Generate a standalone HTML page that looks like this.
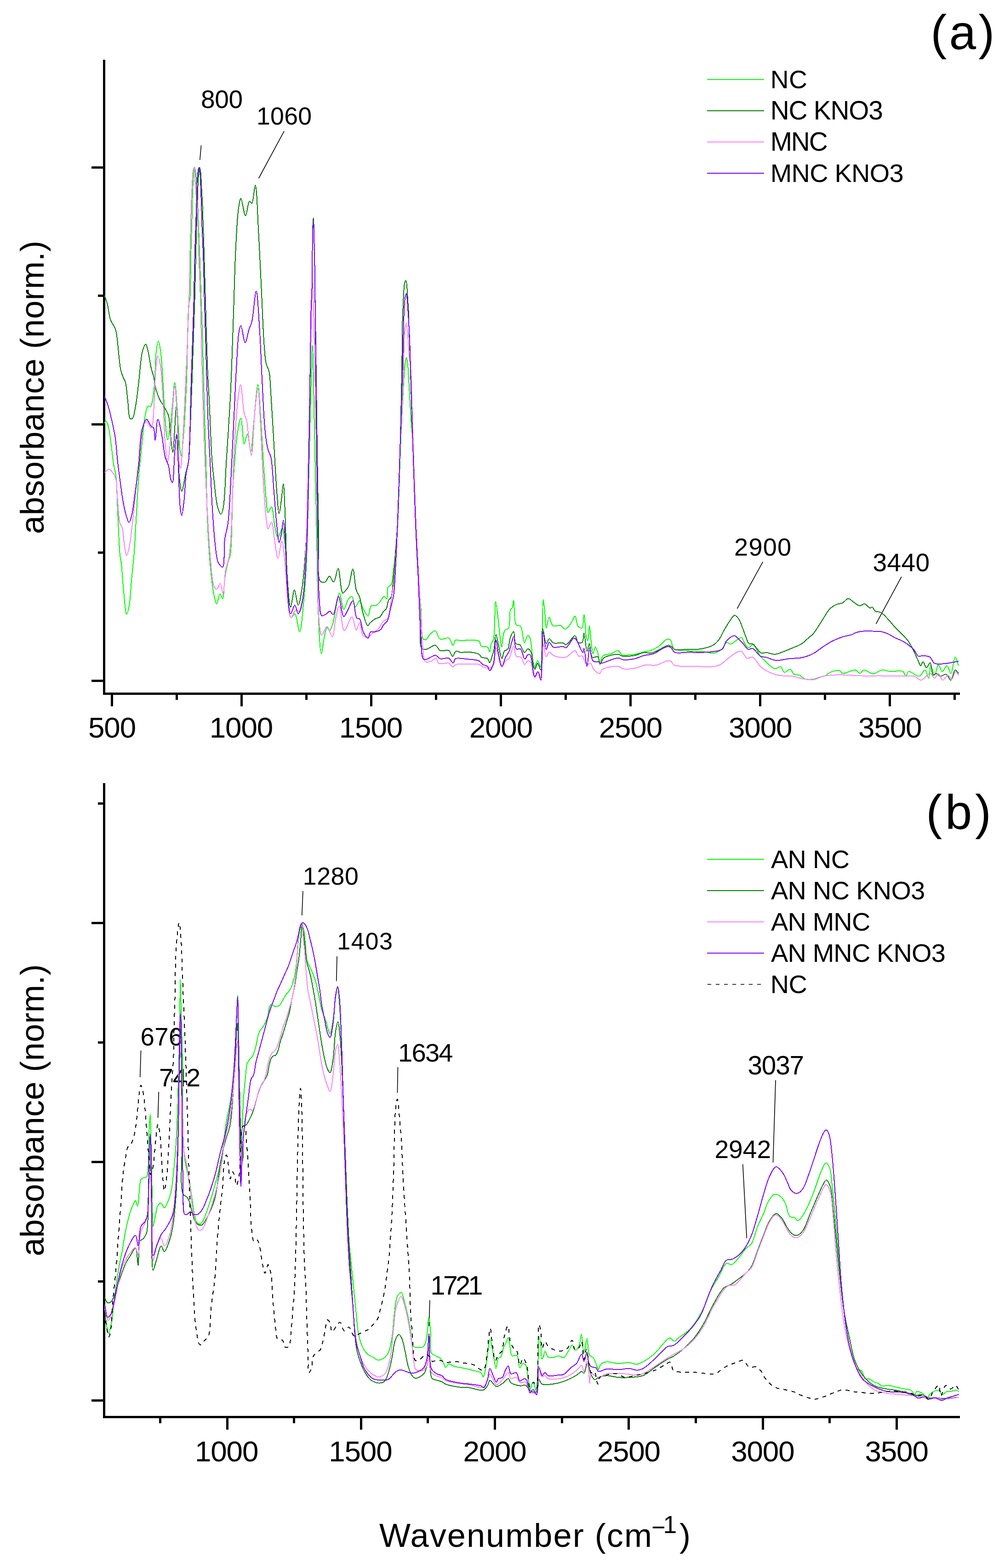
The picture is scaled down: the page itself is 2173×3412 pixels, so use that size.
<!DOCTYPE html><html><head><meta charset="utf-8"><title>FTIR spectra</title><style>html,body{margin:0;padding:0;background:#fff;}svg{display:block;}text{font-family:'Liberation Sans', Arial, sans-serif;fill:#000;}</style></head><body>
<svg width="2173" height="3412" viewBox="0 0 2173 3412">
<rect x="0" y="0" width="2173" height="3412" fill="#fff"/>
<g shape-rendering="crispEdges">
<line x1="226.5" y1="130.0" x2="226.5" y2="1512.0" stroke="#000" stroke-width="5"/>
<line x1="224" y1="1509.5" x2="2088" y2="1509.5" stroke="#000" stroke-width="5"/>
<line x1="199" y1="364.5" x2="226" y2="364.5" stroke="#000" stroke-width="5"/>
<line x1="199" y1="923.5" x2="226" y2="923.5" stroke="#000" stroke-width="5"/>
<line x1="199" y1="1481.5" x2="226" y2="1481.5" stroke="#000" stroke-width="5"/>
<line x1="213" y1="643.5" x2="226" y2="643.5" stroke="#000" stroke-width="5"/>
<line x1="213" y1="1202.5" x2="226" y2="1202.5" stroke="#000" stroke-width="5"/>
<line x1="243.5" y1="1509.5" x2="243.5" y2="1537.0" stroke="#000" stroke-width="5"/>
<line x1="525.5" y1="1509.5" x2="525.5" y2="1537.0" stroke="#000" stroke-width="5"/>
<line x1="807.5" y1="1509.5" x2="807.5" y2="1537.0" stroke="#000" stroke-width="5"/>
<line x1="1089.5" y1="1509.5" x2="1089.5" y2="1537.0" stroke="#000" stroke-width="5"/>
<line x1="1371.5" y1="1509.5" x2="1371.5" y2="1537.0" stroke="#000" stroke-width="5"/>
<line x1="1653.5" y1="1509.5" x2="1653.5" y2="1537.0" stroke="#000" stroke-width="5"/>
<line x1="1935.5" y1="1509.5" x2="1935.5" y2="1537.0" stroke="#000" stroke-width="5"/>
<line x1="384.5" y1="1509.5" x2="384.5" y2="1523.0" stroke="#000" stroke-width="5"/>
<line x1="666.5" y1="1509.5" x2="666.5" y2="1523.0" stroke="#000" stroke-width="5"/>
<line x1="948.5" y1="1509.5" x2="948.5" y2="1523.0" stroke="#000" stroke-width="5"/>
<line x1="1230.5" y1="1509.5" x2="1230.5" y2="1523.0" stroke="#000" stroke-width="5"/>
<line x1="1512.5" y1="1509.5" x2="1512.5" y2="1523.0" stroke="#000" stroke-width="5"/>
<line x1="1794.5" y1="1509.5" x2="1794.5" y2="1523.0" stroke="#000" stroke-width="5"/>
<line x1="2076.5" y1="1509.5" x2="2076.5" y2="1523.0" stroke="#000" stroke-width="5"/>
</g>
<g shape-rendering="crispEdges">
<line x1="226.5" y1="1704.0" x2="226.5" y2="3086.0" stroke="#000" stroke-width="5"/>
<line x1="224" y1="3083.5" x2="2088" y2="3083.5" stroke="#000" stroke-width="5"/>
<line x1="199" y1="2008.5" x2="226" y2="2008.5" stroke="#000" stroke-width="5"/>
<line x1="199" y1="2528.0" x2="226" y2="2528.0" stroke="#000" stroke-width="5"/>
<line x1="199" y1="3047.5" x2="226" y2="3047.5" stroke="#000" stroke-width="5"/>
<line x1="213" y1="1748.5" x2="226" y2="1748.5" stroke="#000" stroke-width="5"/>
<line x1="213" y1="2268.5" x2="226" y2="2268.5" stroke="#000" stroke-width="5"/>
<line x1="213" y1="2788.0" x2="226" y2="2788.0" stroke="#000" stroke-width="5"/>
<line x1="494.0" y1="3083.5" x2="494.0" y2="3111.0" stroke="#000" stroke-width="5"/>
<line x1="785.2" y1="3083.5" x2="785.2" y2="3111.0" stroke="#000" stroke-width="5"/>
<line x1="1076.5" y1="3083.5" x2="1076.5" y2="3111.0" stroke="#000" stroke-width="5"/>
<line x1="1367.8" y1="3083.5" x2="1367.8" y2="3111.0" stroke="#000" stroke-width="5"/>
<line x1="1659.0" y1="3083.5" x2="1659.0" y2="3111.0" stroke="#000" stroke-width="5"/>
<line x1="1950.2" y1="3083.5" x2="1950.2" y2="3111.0" stroke="#000" stroke-width="5"/>
<line x1="348.4" y1="3083.5" x2="348.4" y2="3097.0" stroke="#000" stroke-width="5"/>
<line x1="639.6" y1="3083.5" x2="639.6" y2="3097.0" stroke="#000" stroke-width="5"/>
<line x1="930.9" y1="3083.5" x2="930.9" y2="3097.0" stroke="#000" stroke-width="5"/>
<line x1="1222.1" y1="3083.5" x2="1222.1" y2="3097.0" stroke="#000" stroke-width="5"/>
<line x1="1513.4" y1="3083.5" x2="1513.4" y2="3097.0" stroke="#000" stroke-width="5"/>
<line x1="1804.6" y1="3083.5" x2="1804.6" y2="3097.0" stroke="#000" stroke-width="5"/>
</g>
<text x="192.01" y="1605.36" font-size="63.70" style="letter-spacing:-1.10px">500</text>
<text x="455.77" y="1605.36" font-size="63.70" style="letter-spacing:-1.10px">1000</text>
<text x="737.77" y="1605.36" font-size="63.70" style="letter-spacing:-1.10px">1500</text>
<text x="1020.72" y="1605.36" font-size="63.70" style="letter-spacing:-1.10px">2000</text>
<text x="1302.72" y="1605.36" font-size="63.70" style="letter-spacing:-1.10px">2500</text>
<text x="1585.04" y="1605.36" font-size="63.70" style="letter-spacing:-1.10px">3000</text>
<text x="1867.04" y="1605.36" font-size="63.70" style="letter-spacing:-1.10px">3500</text>
<text x="423.97" y="3179.96" font-size="63.70" style="letter-spacing:-1.10px">1000</text>
<text x="715.22" y="3179.96" font-size="63.70" style="letter-spacing:-1.10px">1500</text>
<text x="1007.42" y="3179.96" font-size="63.70" style="letter-spacing:-1.10px">2000</text>
<text x="1298.67" y="3179.96" font-size="63.70" style="letter-spacing:-1.10px">2500</text>
<text x="1590.24" y="3179.96" font-size="63.70" style="letter-spacing:-1.10px">3000</text>
<text x="1881.49" y="3179.96" font-size="63.70" style="letter-spacing:-1.10px">3500</text>
<text transform="translate(95.23,1161.99) rotate(-90)" font-size="72.23" style="letter-spacing:0.48px">absorbance (norm.)</text>
<text transform="translate(95.23,2733.59) rotate(-90)" font-size="72.23" style="letter-spacing:0.30px">absorbance (norm.)</text>
<text x="825.08" y="3365.65" font-size="72.13" style="letter-spacing:2.05px">Wavenumber (cm</text>
<text x="1416.90" y="3341.01" font-size="52.04">−</text>
<text x="1442.57" y="3335.90" font-size="53.48">1</text>
<text x="1478.08" y="3365.65" font-size="72.13" style="letter-spacing:0.00px">)</text>
<text x="2024.37" y="106.86" font-size="105.43" style="letter-spacing:5.07px">(a)</text>
<text x="2014.21" y="1803.67" font-size="104.89" style="letter-spacing:6.76px">(b)</text>
<line x1="1538" y1="173.0" x2="1661.5" y2="173.0" stroke="#00FF00" stroke-width="2" shape-rendering="crispEdges"/>
<line x1="1538" y1="241.0" x2="1661.5" y2="241.0" stroke="#008000" stroke-width="2" shape-rendering="crispEdges"/>
<line x1="1538" y1="309.0" x2="1661.5" y2="309.0" stroke="#FF80FF" stroke-width="2" shape-rendering="crispEdges"/>
<line x1="1538" y1="377.0" x2="1661.5" y2="377.0" stroke="#7F00FF" stroke-width="2" shape-rendering="crispEdges"/>
<text x="1675.78" y="191.55" font-size="55.21" style="letter-spacing:0.42px">NC</text>
<text x="1675.66" y="260.03" font-size="56.76" style="letter-spacing:-1.20px">NC KNO3</text>
<text x="1675.66" y="328.23" font-size="56.76" style="letter-spacing:-2.07px">MNC</text>
<text x="1675.73" y="396.04" font-size="55.92" style="letter-spacing:-0.75px">MNC KNO3</text>
<line x1="1538" y1="1870.0" x2="1661.5" y2="1870.0" stroke="#00FF00" stroke-width="2" shape-rendering="crispEdges"/>
<line x1="1538" y1="1938.0" x2="1661.5" y2="1938.0" stroke="#008000" stroke-width="2" shape-rendering="crispEdges"/>
<line x1="1538" y1="2006.0" x2="1661.5" y2="2006.0" stroke="#FF80FF" stroke-width="2" shape-rendering="crispEdges"/>
<line x1="1538" y1="2074.0" x2="1661.5" y2="2074.0" stroke="#7F00FF" stroke-width="2" shape-rendering="crispEdges"/>
<line x1="1538.9" y1="2142.0" x2="1656" y2="2142.0" stroke="#000" stroke-width="1.6" stroke-dasharray="8.2,9.8"/>
<text x="1677.00" y="1888.94" font-size="55.77" style="letter-spacing:-0.63px">AN NC</text>
<text x="1677.00" y="1956.74" font-size="55.77" style="letter-spacing:-0.62px">AN NC KNO3</text>
<text x="1677.00" y="2025.14" font-size="55.92" style="letter-spacing:-0.85px">AN MNC</text>
<text x="1677.00" y="2092.94" font-size="55.92" style="letter-spacing:-0.85px">AN MNC KNO3</text>
<text x="1675.83" y="2160.74" font-size="55.92" style="letter-spacing:-0.71px">NC</text>
<text x="436.90" y="234.95" font-size="55.07" style="letter-spacing:-0.28px">800</text>
<line x1="437.6" y1="316.3" x2="434.8" y2="348.0" stroke="#000" stroke-width="1.6"/>
<text x="558.01" y="271.16" font-size="53.66" style="letter-spacing:0.27px">1060</text>
<line x1="618.0" y1="285.4" x2="562.7" y2="388.0" stroke="#000" stroke-width="1.6"/>
<text x="1597.10" y="1209.06" font-size="54.08" style="letter-spacing:1.23px">2900</text>
<line x1="1659.4" y1="1222.4" x2="1603.4" y2="1324.4" stroke="#000" stroke-width="1.6"/>
<text x="1898.40" y="1243.35" font-size="55.07" style="letter-spacing:0.38px">3440</text>
<line x1="1960.9" y1="1255.0" x2="1905.5" y2="1357.6" stroke="#000" stroke-width="1.6"/>
<text x="658.81" y="1924.86" font-size="53.66" style="letter-spacing:0.57px">1280</text>
<line x1="658.9" y1="1939.0" x2="656.8" y2="1992.0" stroke="#000" stroke-width="1.6"/>
<text x="733.13" y="2066.48" font-size="52.11" style="letter-spacing:1.65px">1403</text>
<line x1="733.0" y1="2081.0" x2="731.8" y2="2134.7" stroke="#000" stroke-width="1.6"/>
<text x="305.47" y="2274.75" font-size="54.65" style="letter-spacing:0.35px">676</text>
<line x1="306.5" y1="2285.9" x2="304.7" y2="2344.1" stroke="#000" stroke-width="1.6"/>
<text x="346.03" y="2363.50" font-size="55.43" style="letter-spacing:-1.16px">742</text>
<line x1="345.3" y1="2375.9" x2="343.5" y2="2432.4" stroke="#000" stroke-width="1.6"/>
<text x="866.10" y="2310.04" font-size="56.20" style="letter-spacing:-1.83px">1634</text>
<line x1="865.4" y1="2322.0" x2="864.4" y2="2378.0" stroke="#000" stroke-width="1.6"/>
<text x="936.53" y="2817.10" font-size="57.14" style="letter-spacing:-4.41px">1721</text>
<line x1="934.9" y1="2829.3" x2="933.2" y2="2885.6" stroke="#000" stroke-width="1.6"/>
<text x="1554.45" y="2520.35" font-size="55.07" style="letter-spacing:0.05px">2942</text>
<line x1="1615.7" y1="2533.4" x2="1624.3" y2="2694.3" stroke="#000" stroke-width="1.6"/>
<text x="1626.44" y="2338.13" font-size="56.62" style="letter-spacing:-1.10px">3037</text>
<line x1="1687.1" y1="2350.4" x2="1681.5" y2="2529.5" stroke="#000" stroke-width="1.6"/>
<path d="M227.5,921.0C228.3,919.3 229.0,916.1 230.0,916.0C231.0,915.9 232.6,918.8 233.6,921.0C235.1,924.3 235.9,928.9 237.0,934.5C238.7,943.2 240.4,956.7 242.0,968.6C243.7,981.6 245.1,997.3 247.0,1009.5C248.6,1019.5 250.9,1025.5 252.3,1036.7C254.4,1054.2 254.4,1079.8 255.7,1104.8C257.2,1135.4 258.8,1186.1 260.9,1207.0C261.9,1216.3 263.0,1218.4 264.0,1227.0C265.8,1242.4 267.2,1272.4 269.4,1292.0C271.2,1308.2 273.0,1336.1 275.5,1336.3C277.2,1336.4 279.7,1324.6 281.3,1316.0C283.9,1301.7 284.6,1276.7 286.4,1258.0C288.0,1240.4 290.0,1226.2 291.5,1207.0C293.5,1182.2 294.9,1150.2 296.6,1121.8C298.3,1093.4 299.6,1063.5 301.7,1036.7C303.6,1012.7 306.2,990.7 308.5,968.6C310.7,947.6 312.3,922.9 315.3,907.3C317.2,897.4 318.8,885.3 322.0,883.5C323.5,882.7 325.6,885.6 327.0,885.0C328.8,884.2 329.6,880.6 330.7,876.7C332.9,868.8 334.4,853.9 335.8,839.2C337.8,818.5 337.7,781.9 339.9,764.3C341.1,754.6 342.7,742.0 344.3,742.0C345.9,742.0 348.0,754.8 349.4,764.3C351.9,780.8 352.9,808.4 354.5,832.4C356.3,859.2 357.4,894.6 359.6,917.5C361.1,933.1 362.7,956.6 364.7,956.7C366.2,956.8 368.3,943.5 369.8,934.5C372.0,921.0 373.3,900.5 375.0,883.5C376.7,866.5 378.3,832.4 380.0,832.4C381.7,832.4 383.6,864.3 385.1,883.5C387.1,908.3 388.3,949.0 390.3,968.6C391.4,979.0 392.5,992.4 393.7,992.4C395.3,992.4 397.2,968.8 398.8,951.6C401.5,922.3 403.7,875.7 405.6,832.4C407.8,780.7 408.0,686.2 410.7,662.0C411.5,655.3 412.5,655.6 413.2,649.4C415.0,633.1 414.3,589.6 415.0,559.7C415.8,529.8 417.1,494.3 417.7,470.0C418.1,453.3 418.2,441.0 418.6,427.8C419.0,416.1 419.4,404.2 420.0,394.9C420.4,388.0 420.8,382.5 421.4,377.0C421.9,372.4 422.5,364.2 423.2,364.2C423.7,364.2 424.4,368.8 424.9,371.6C425.6,375.4 426.1,380.0 426.5,385.0C427.1,391.4 427.4,399.0 427.8,406.8C428.3,415.9 428.6,427.4 429.2,436.5C429.7,444.2 430.4,451.2 430.8,458.0C431.1,464.0 431.0,467.2 431.3,475.0C431.9,492.5 433.5,531.1 434.5,559.7C435.5,589.2 436.5,620.3 437.5,649.4C438.4,677.0 439.3,698.2 440.3,730.0C441.7,776.3 443.3,850.6 444.7,900.5C445.8,939.6 446.9,968.0 448.0,1005.0C449.2,1046.9 449.6,1097.4 451.5,1139.0C453.2,1175.3 455.6,1212.9 458.4,1241.0C460.4,1261.0 462.2,1278.6 465.0,1292.0C466.8,1300.9 469.1,1314.0 471.3,1314.0C473.6,1314.0 476.0,1292.2 478.5,1292.0C480.4,1291.8 482.7,1303.3 484.3,1303.0C487.3,1302.4 486.9,1271.9 489.0,1258.0C490.8,1245.8 493.4,1233.3 495.8,1224.0C497.5,1217.3 499.6,1215.5 501.0,1207.0C505.0,1183.4 504.1,1108.3 506.0,1070.7C507.3,1044.2 508.6,1025.1 510.4,1003.0C512.1,981.9 513.7,958.1 516.6,941.0C518.7,928.8 521.8,909.7 524.0,909.8C526.9,910.0 528.0,965.6 531.2,965.9C533.2,966.1 536.1,944.9 538.2,945.0C541.0,945.2 543.6,982.6 545.7,982.5C548.4,982.4 549.7,942.3 552.0,920.0C554.7,894.3 558.5,837.0 561.0,837.0C563.2,837.0 564.8,875.9 566.5,899.4C568.7,929.6 570.5,970.6 572.7,1003.3C574.7,1032.6 576.8,1065.8 579.0,1086.4C580.3,1098.6 580.5,1115.0 583.1,1115.5C585.0,1115.9 588.5,1102.6 590.6,1103.0C594.1,1103.7 595.1,1132.5 597.6,1144.5C599.6,1153.9 601.4,1169.1 603.9,1169.5C605.4,1169.7 607.3,1164.1 608.9,1161.0C610.8,1157.3 612.7,1148.5 614.3,1148.7C617.2,1149.1 618.9,1177.1 620.5,1194.4C622.6,1217.0 622.5,1247.5 624.7,1273.0C626.8,1297.3 627.3,1342.0 633.0,1344.0C635.3,1344.8 638.8,1335.0 641.3,1335.7C645.9,1336.9 648.8,1375.2 651.7,1375.0C655.3,1374.8 657.7,1336.7 660.0,1315.0C662.7,1289.6 664.4,1266.4 666.2,1231.8C669.1,1174.5 670.6,1073.4 672.4,1003.3C674.0,943.5 675.2,883.5 676.6,837.0C677.6,803.5 678.5,750.5 679.5,750.5C680.9,750.5 682.3,858.1 683.7,920.0C685.4,995.2 687.4,1094.8 689.0,1169.5C690.3,1230.5 690.2,1289.3 692.4,1335.7C694.0,1369.2 696.0,1421.8 698.8,1422.0C700.6,1422.1 702.7,1398.7 705.0,1388.6C706.9,1380.2 708.5,1366.3 711.3,1365.6C713.0,1365.2 715.3,1372.2 717.1,1371.9C719.6,1371.5 721.9,1363.2 723.8,1357.3C726.5,1349.0 727.7,1336.7 730.0,1326.0C732.5,1314.5 735.4,1290.6 738.4,1290.6C741.4,1290.6 744.1,1325.7 747.8,1326.0C750.9,1326.3 754.3,1307.7 758.2,1303.0C760.5,1300.2 763.4,1297.2 765.5,1297.9C768.9,1299.1 769.6,1320.3 772.8,1320.8C775.4,1321.2 779.4,1306.9 782.2,1307.2C785.4,1307.5 787.4,1320.3 790.6,1326.0C793.6,1331.3 797.9,1341.0 800.6,1340.6C803.6,1340.1 803.2,1321.9 807.2,1318.7C809.9,1316.5 814.6,1319.0 817.7,1317.7C820.9,1316.3 823.3,1313.3 826.0,1310.4C829.2,1306.9 832.4,1298.3 835.4,1297.9C837.6,1297.6 840.2,1303.6 841.7,1303.0C844.3,1301.9 841.0,1283.2 843.7,1278.0C845.4,1274.8 849.2,1275.0 851.0,1271.8C854.0,1266.5 853.9,1255.9 855.2,1246.8C856.7,1236.0 858.0,1225.2 859.4,1211.3C861.3,1191.8 863.3,1169.7 865.0,1141.0C867.6,1095.9 869.0,1024.4 871.5,967.0C874.0,910.8 878.1,821.4 880.1,800.0C880.6,794.9 880.8,793.9 881.4,790.5C882.1,786.5 883.1,777.4 884.0,777.4C884.9,777.4 886.0,786.5 886.6,790.5C887.1,793.9 887.1,795.4 887.5,800.0C888.5,812.6 890.2,848.1 891.5,870.0C892.7,889.4 893.7,907.9 895.0,925.0C896.1,939.9 897.4,948.2 898.5,967.0C900.7,1005.2 901.9,1088.8 904.0,1141.0C905.7,1183.8 907.5,1224.0 909.8,1257.7C911.6,1283.5 913.8,1303.5 915.7,1326.0C917.5,1347.9 915.2,1385.3 921.0,1390.7C922.9,1392.5 926.2,1391.8 928.2,1390.7C930.5,1389.4 930.9,1384.9 933.4,1382.3C936.6,1378.9 943.1,1372.1 947.0,1373.0C951.3,1374.0 952.4,1388.2 957.4,1390.7C962.2,1393.1 971.5,1386.3 976.2,1388.6C980.8,1390.9 983.0,1404.3 985.6,1404.2C987.7,1404.1 988.1,1394.3 990.8,1392.8C993.1,1391.5 995.8,1393.5 1000.0,1393.8C1008.9,1394.4 1035.8,1390.6 1042.2,1395.2C1045.5,1397.6 1043.4,1403.4 1046.0,1405.6C1049.0,1408.1 1057.2,1405.7 1060.4,1408.2C1063.2,1410.4 1063.9,1418.8 1065.1,1418.6C1066.6,1418.4 1066.6,1406.6 1068.2,1401.7C1069.5,1397.7 1072.0,1396.6 1073.4,1391.2C1077.2,1377.0 1076.0,1309.2 1078.1,1309.1C1079.4,1309.0 1081.2,1327.9 1082.6,1339.0C1084.4,1352.9 1086.1,1373.3 1087.8,1386.0C1089.0,1394.8 1090.0,1408.2 1091.2,1408.2C1092.6,1408.2 1093.5,1384.8 1095.6,1378.2C1096.7,1374.6 1097.6,1372.1 1099.5,1370.4C1101.2,1368.8 1104.3,1370.1 1106.0,1367.8C1110.2,1362.3 1107.4,1331.4 1110.5,1326.0C1111.5,1324.3 1113.0,1324.9 1113.9,1323.4C1115.8,1320.4 1116.2,1306.4 1117.3,1306.5C1119.3,1306.6 1117.3,1353.3 1123.0,1360.0C1125.4,1362.8 1129.6,1360.0 1132.1,1362.6C1137.1,1367.8 1137.5,1398.7 1140.7,1399.0C1142.9,1399.2 1145.3,1383.3 1147.8,1382.9C1149.5,1382.6 1151.4,1385.3 1153.0,1388.6C1157.5,1398.3 1158.0,1453.2 1162.1,1453.8C1164.2,1454.1 1167.0,1437.7 1169.4,1437.7C1171.6,1437.7 1174.3,1451.5 1175.9,1451.2C1179.0,1450.6 1178.1,1417.1 1179.0,1396.5C1180.1,1369.9 1180.1,1305.3 1181.7,1305.2C1182.6,1305.2 1184.0,1321.9 1185.0,1331.3C1186.2,1342.1 1186.3,1366.3 1188.2,1366.5C1189.8,1366.6 1192.2,1343.2 1194.7,1343.0C1197.0,1342.8 1198.1,1358.4 1202.5,1361.3C1206.6,1364.0 1214.7,1359.7 1219.5,1361.3C1223.7,1362.7 1226.4,1369.3 1229.9,1369.0C1234.2,1368.6 1239.4,1359.7 1243.0,1354.7C1246.3,1350.1 1248.6,1340.2 1250.8,1340.4C1253.5,1340.7 1253.7,1358.5 1257.3,1362.6C1259.6,1365.2 1263.8,1367.7 1265.9,1366.5C1269.6,1364.5 1268.9,1337.8 1270.3,1337.8C1272.1,1337.8 1273.1,1376.9 1275.5,1386.0C1276.5,1389.8 1278.0,1393.9 1278.9,1393.8C1280.7,1393.5 1280.8,1361.3 1282.0,1361.3C1283.2,1361.3 1284.6,1385.7 1286.0,1396.5C1287.2,1405.8 1288.1,1422.3 1289.9,1422.5C1291.3,1422.6 1293.2,1408.3 1295.0,1408.2C1296.7,1408.1 1298.8,1415.2 1300.3,1420.0C1302.4,1426.9 1303.1,1445.9 1305.0,1446.0C1306.6,1446.1 1307.3,1431.3 1310.7,1427.7C1313.3,1424.9 1317.9,1424.7 1321.2,1423.8C1324.0,1423.1 1326.0,1423.4 1329.0,1422.5C1333.4,1421.2 1340.3,1415.1 1344.6,1416.0C1348.4,1416.8 1349.9,1424.1 1353.7,1425.7C1357.7,1427.3 1363.4,1425.4 1368.1,1425.1C1372.5,1424.8 1376.3,1424.7 1381.1,1423.8C1387.0,1422.7 1395.0,1420.0 1400.9,1418.6C1405.7,1417.5 1409.3,1417.6 1413.9,1416.0C1419.6,1414.1 1426.3,1410.8 1432.2,1406.9C1438.6,1402.7 1445.3,1392.6 1450.4,1391.2C1453.3,1390.4 1456.0,1390.7 1458.2,1392.5C1461.8,1395.4 1461.4,1408.4 1466.0,1412.1C1470.3,1415.6 1477.6,1414.4 1484.3,1415.2C1492.2,1416.2 1501.9,1416.7 1510.4,1417.3C1518.4,1417.8 1527.0,1417.8 1533.8,1418.6C1539.2,1419.2 1543.9,1421.1 1548.2,1421.2C1551.6,1421.3 1554.1,1421.1 1557.3,1420.0C1561.4,1418.6 1566.6,1415.6 1570.4,1412.1C1574.5,1408.3 1577.2,1398.7 1580.8,1397.8C1583.3,1397.2 1585.7,1401.9 1588.6,1401.7C1592.7,1401.5 1598.6,1395.1 1603.0,1392.5C1606.6,1390.4 1610.2,1386.5 1612.9,1387.3C1616.0,1388.3 1617.3,1396.6 1619.9,1400.4C1622.3,1403.9 1624.7,1409.0 1627.7,1409.5C1630.7,1410.0 1634.7,1402.2 1638.1,1403.0C1643.4,1404.2 1648.4,1421.0 1653.8,1427.7C1658.1,1433.0 1661.9,1436.5 1666.8,1440.8C1672.2,1445.6 1679.2,1454.0 1685.1,1455.1C1689.6,1455.9 1694.6,1450.0 1698.1,1451.2C1701.6,1452.5 1702.6,1462.1 1706.0,1463.0C1709.5,1463.9 1715.5,1455.6 1719.0,1456.4C1722.3,1457.2 1723.4,1464.7 1726.8,1466.9C1730.3,1469.1 1735.9,1467.8 1739.8,1469.5C1743.7,1471.2 1746.0,1475.8 1750.3,1477.3C1755.6,1479.1 1764.2,1478.7 1770.0,1477.8C1774.7,1477.1 1778.3,1474.8 1782.5,1473.6C1786.6,1472.4 1791.2,1472.2 1795.0,1470.5C1798.8,1468.8 1801.2,1465.0 1805.5,1463.2C1811.1,1460.8 1821.6,1457.6 1826.3,1459.0C1829.3,1459.9 1829.4,1464.4 1832.6,1465.3C1838.4,1466.9 1854.1,1456.6 1860.7,1458.0C1865.0,1458.9 1867.0,1465.3 1870.1,1465.3C1873.2,1465.3 1875.6,1458.5 1879.5,1458.0C1884.7,1457.3 1892.8,1466.4 1899.3,1466.3C1905.7,1466.2 1911.7,1458.8 1918.1,1458.0C1924.3,1457.2 1930.0,1460.5 1936.9,1461.1C1945.1,1461.8 1958.5,1458.0 1964.0,1461.1C1967.7,1463.2 1968.2,1471.5 1970.3,1471.5C1972.4,1471.5 1973.1,1462.2 1976.5,1461.1C1981.4,1459.6 1993.3,1472.7 1999.5,1471.5C2004.8,1470.4 2008.6,1457.5 2012.0,1458.0C2015.5,1458.6 2018.3,1476.0 2020.3,1475.7C2022.7,1475.4 2022.2,1448.9 2024.5,1448.6C2026.6,1448.4 2030.1,1469.5 2032.8,1469.5C2035.6,1469.5 2038.1,1446.8 2041.2,1446.5C2043.8,1446.3 2046.3,1460.8 2049.5,1461.1C2052.6,1461.4 2056.9,1448.2 2060.0,1448.6C2063.3,1449.0 2065.8,1465.6 2068.3,1465.3C2071.9,1464.9 2074.5,1430.0 2077.7,1429.8C2080.1,1429.7 2082.6,1442.3 2085.0,1448.6" fill="none" stroke="#00FF00" stroke-width="2.00" stroke-linejoin="round" shape-rendering="crispEdges" />
<path d="M227.5,643.4C229.5,649.6 231.7,654.8 233.6,662.0C236.1,671.6 237.0,686.5 240.4,696.0C243.1,703.5 248.3,708.9 250.6,715.0C252.5,720.2 252.8,723.0 254.0,730.0C256.6,745.4 259.2,789.5 262.6,805.0C264.2,812.2 265.9,815.8 267.7,820.5C269.3,824.7 271.4,826.8 272.8,832.0C275.4,841.3 276.3,859.6 278.0,873.0C279.7,885.8 279.2,907.4 283.0,910.7C284.4,911.9 286.5,911.8 288.0,910.7C291.5,908.0 293.0,894.1 295.0,883.5C297.8,869.1 299.4,850.4 301.7,832.0C304.4,810.9 305.9,778.3 310.0,764.0C312.0,757.0 315.0,748.9 317.0,749.0C319.0,749.1 320.4,757.8 322.0,764.0C324.5,773.7 326.6,791.7 329.0,801.8C330.6,808.6 332.5,812.4 334.0,818.8C335.9,826.8 336.6,837.3 339.0,846.0C341.3,854.3 344.5,863.3 347.7,870.0C350.3,875.3 353.2,878.5 356.0,883.5C359.4,889.6 364.1,896.3 366.4,904.0C369.1,912.9 368.5,923.1 369.8,934.5C371.5,949.0 374.3,984.0 376.0,984.0C377.7,984.0 378.8,951.1 380.0,934.5C381.2,917.6 382.3,883.5 383.4,883.5C384.5,883.5 385.8,914.6 386.8,934.5C388.2,962.7 387.6,1012.2 390.0,1036.7C391.4,1050.5 393.2,1068.9 395.4,1069.0C397.8,1069.1 401.2,1041.5 403.9,1030.0C406.0,1020.7 408.4,1015.7 410.0,1005.0C412.7,986.4 412.6,959.4 414.0,927.7C416.2,877.0 419.3,781.4 421.0,730.0C422.1,697.2 422.8,677.0 423.6,649.4C424.4,620.3 425.1,589.6 425.9,559.7C426.6,529.8 427.3,493.8 428.1,470.0C428.6,454.3 429.2,443.4 429.7,431.0C430.1,419.7 430.3,408.4 430.8,398.6C431.2,390.4 431.7,382.3 432.4,376.0C432.9,371.4 433.6,364.2 434.3,364.2C435.0,364.2 436.2,372.2 436.8,377.0C437.5,383.2 437.4,390.2 437.8,398.6C438.4,410.2 439.6,427.3 440.2,440.0C440.7,450.8 440.8,457.3 441.2,470.0C441.9,491.9 443.3,529.8 444.2,559.7C445.1,589.6 445.8,615.4 446.8,649.4C448.1,694.2 449.8,764.3 451.5,805.0C452.6,831.3 453.7,844.4 455.0,870.0C456.9,906.9 459.1,974.7 461.4,1005.0C462.6,1020.5 463.4,1026.6 465.0,1040.0C467.2,1058.3 469.6,1091.2 473.7,1104.8C475.7,1111.5 478.6,1119.1 480.6,1119.0C482.6,1118.9 484.2,1111.8 485.6,1104.8C489.4,1086.4 490.0,1039.1 492.4,1002.6C495.1,960.5 499.0,904.5 501.0,866.4C502.4,839.0 503.0,822.4 504.0,795.5C505.4,759.8 506.9,712.5 508.3,671.0C509.7,629.4 510.6,584.4 512.5,546.0C514.2,513.2 515.7,475.0 518.7,454.8C520.2,444.6 521.9,432.0 524.0,432.0C526.7,432.0 530.7,469.3 534.0,469.3C537.0,469.3 539.3,439.0 542.8,438.0C544.4,437.5 546.3,442.8 547.8,442.3C551.4,441.0 553.2,402.8 555.3,402.9C558.7,403.1 560.2,469.0 562.3,504.7C564.7,544.1 566.5,587.8 568.6,629.3C570.7,670.9 572.4,724.6 574.8,754.0C576.1,770.1 576.6,781.5 579.0,791.4C580.6,798.2 583.6,800.8 585.2,808.0C587.9,820.0 587.9,838.2 589.3,857.8C591.3,886.1 593.5,927.1 595.6,961.7C597.7,996.3 599.5,1036.9 601.8,1065.6C603.5,1085.9 605.2,1117.4 607.2,1117.5C608.7,1117.5 610.7,1097.0 612.2,1086.4C613.7,1075.5 615.1,1053.0 616.3,1053.0C618.1,1053.1 619.2,1099.8 620.5,1128.0C622.1,1164.3 622.2,1217.3 624.7,1252.6C626.6,1278.8 628.9,1320.8 632.1,1321.0C634.5,1321.1 637.6,1283.7 640.4,1283.7C643.1,1283.7 646.0,1317.1 648.7,1317.0C651.8,1316.9 655.3,1291.1 657.9,1273.3C661.8,1246.2 664.0,1210.1 666.2,1169.5C669.3,1112.2 670.7,1036.8 672.4,961.7C674.4,872.9 675.0,718.9 676.6,670.9C677.1,655.1 677.9,651.2 678.3,639.4C678.8,624.1 678.5,604.8 678.7,587.0C679.0,568.6 679.5,548.2 679.8,531.0C680.1,516.3 680.0,500.6 680.5,490.0C680.8,483.3 681.3,473.5 681.7,473.5C682.0,473.5 682.4,483.9 682.6,490.0C682.9,497.7 683.0,506.4 683.2,516.0C683.5,527.8 683.8,541.7 684.1,555.7C684.4,571.4 684.8,590.7 685.0,605.7C685.2,618.0 685.1,624.8 685.3,639.4C685.6,666.3 686.4,708.5 687.0,754.0C687.9,821.2 689.2,928.6 690.3,1003.3C691.2,1064.3 691.9,1121.8 693.2,1169.5C694.2,1205.6 688.7,1255.0 696.7,1264.5C699.4,1267.7 703.9,1267.8 707.0,1266.6C710.7,1265.2 713.3,1254.0 716.5,1254.0C719.6,1254.0 723.1,1267.1 725.9,1266.6C729.8,1266.0 732.4,1237.2 735.3,1237.4C739.2,1237.6 740.8,1289.1 745.7,1290.6C747.9,1291.3 750.9,1285.8 753.0,1283.3C755.0,1280.9 756.5,1279.6 758.2,1276.0C761.7,1268.5 764.9,1238.3 767.6,1238.4C770.6,1238.5 771.5,1273.4 775.0,1284.3C777.1,1290.8 780.2,1293.0 782.2,1299.0C785.0,1307.3 785.6,1319.9 788.5,1330.2C791.5,1340.7 796.4,1360.9 800.0,1361.5C801.8,1361.8 803.0,1357.3 805.2,1355.2C808.0,1352.5 812.0,1349.0 815.6,1346.9C818.9,1345.0 823.0,1345.1 826.0,1342.7C829.5,1339.9 831.7,1333.5 834.4,1330.2C836.5,1327.7 839.0,1326.9 840.6,1324.0C842.9,1320.0 842.7,1311.7 844.8,1307.2C846.4,1303.8 849.4,1302.9 851.0,1298.9C854.0,1291.4 853.9,1276.4 855.2,1263.4C856.8,1247.7 857.9,1230.0 859.4,1211.3C861.1,1189.6 863.1,1169.7 864.7,1141.0C867.1,1095.9 868.9,1024.4 870.5,967.0C872.1,910.8 873.4,847.6 874.2,800.0C874.8,764.4 874.8,728.5 875.3,706.8C875.6,695.1 875.9,688.5 876.2,679.8C876.5,671.7 876.8,663.9 877.2,656.3C877.5,649.1 877.9,641.9 878.3,635.3C878.7,629.5 878.6,623.3 879.6,618.8C880.3,615.5 881.8,610.5 882.7,610.5C883.6,610.5 884.4,615.6 884.9,618.8C885.6,623.0 885.4,628.0 885.7,633.6C886.2,641.1 887.0,651.4 887.5,659.7C888.0,667.3 888.5,673.4 888.8,681.5C889.2,691.8 889.3,705.2 889.7,716.4C890.1,726.9 890.6,735.3 891.0,746.9C891.6,762.2 892.0,777.4 892.7,800.0C894.0,840.1 896.1,910.8 898.0,967.0C899.9,1024.4 901.8,1088.8 904.0,1141.0C905.8,1183.8 908.1,1221.4 909.8,1257.7C911.3,1289.4 912.1,1319.6 913.6,1346.9C914.9,1370.2 911.2,1404.7 917.8,1411.5C920.4,1414.2 924.3,1413.2 928.2,1412.6C933.6,1411.7 941.9,1403.1 947.0,1404.2C951.4,1405.1 952.9,1413.7 957.4,1415.7C962.4,1417.9 971.6,1413.2 976.2,1415.7C980.3,1417.9 981.8,1428.2 984.5,1428.2C987.0,1428.2 988.6,1418.0 991.9,1416.8C994.9,1415.7 999.1,1419.7 1003.0,1420.0C1007.2,1420.4 1011.0,1418.4 1016.1,1418.6C1023.3,1418.9 1037.1,1420.7 1042.2,1423.8C1045.1,1425.6 1044.9,1428.9 1047.4,1430.4C1050.5,1432.3 1057.4,1430.8 1060.4,1433.0C1063.0,1435.0 1063.6,1442.1 1065.1,1442.0C1067.1,1441.9 1069.2,1431.5 1070.8,1426.4C1072.3,1421.6 1073.6,1417.8 1074.7,1412.1C1076.4,1403.7 1076.9,1380.9 1078.7,1380.8C1080.1,1380.7 1082.0,1394.0 1083.9,1401.7C1086.2,1411.1 1089.2,1432.9 1091.7,1433.0C1093.5,1433.1 1094.2,1420.9 1096.9,1417.3C1098.9,1414.6 1102.7,1415.1 1104.7,1412.1C1108.0,1407.2 1107.4,1394.1 1110.0,1387.3C1112.0,1382.1 1115.4,1374.0 1117.3,1374.3C1119.8,1374.7 1118.0,1396.2 1121.7,1400.4C1123.9,1402.9 1128.0,1400.9 1130.8,1403.0C1134.8,1406.1 1138.0,1419.8 1141.2,1420.0C1143.5,1420.2 1145.5,1412.3 1147.8,1412.1C1149.9,1411.9 1152.4,1414.3 1154.3,1417.3C1158.5,1424.0 1160.2,1456.1 1163.4,1456.4C1165.3,1456.6 1167.3,1443.4 1169.4,1443.4C1171.6,1443.4 1174.6,1458.1 1176.4,1457.7C1180.7,1456.8 1177.2,1368.1 1180.4,1367.8C1182.3,1367.6 1185.0,1399.9 1188.2,1400.4C1190.1,1400.7 1192.1,1390.3 1194.7,1390.0C1197.3,1389.7 1199.7,1397.3 1203.8,1399.0C1209.0,1401.2 1219.8,1397.6 1224.7,1399.0C1227.6,1399.8 1228.6,1403.3 1231.2,1403.0C1236.2,1402.4 1246.4,1382.6 1250.8,1383.4C1254.2,1384.0 1254.1,1395.7 1257.3,1397.8C1259.7,1399.4 1264.2,1399.6 1266.4,1397.8C1269.6,1395.1 1268.9,1377.7 1270.3,1377.7C1272.3,1377.7 1274.4,1417.1 1276.8,1417.3C1278.4,1417.4 1280.3,1400.3 1282.0,1400.4C1284.2,1400.5 1283.9,1427.0 1288.6,1430.4C1291.5,1432.5 1297.5,1427.2 1300.3,1429.0C1303.6,1431.1 1303.2,1444.4 1305.5,1444.7C1307.7,1444.9 1308.9,1435.0 1313.4,1431.7C1319.9,1426.9 1337.4,1423.2 1344.6,1423.8C1348.6,1424.1 1349.8,1427.0 1353.7,1427.7C1360.1,1428.8 1371.8,1427.8 1380.0,1426.4C1387.5,1425.1 1394.4,1420.7 1400.9,1420.0C1406.4,1419.4 1411.4,1422.0 1416.5,1421.2C1421.8,1420.4 1426.6,1417.2 1432.2,1414.7C1438.7,1411.7 1447.7,1404.7 1453.0,1404.3C1456.2,1404.1 1458.5,1405.5 1460.8,1406.9C1463.3,1408.4 1464.2,1412.1 1467.4,1413.4C1472.4,1415.4 1481.4,1413.6 1489.5,1413.4C1499.6,1413.2 1512.9,1413.7 1523.4,1412.1C1532.8,1410.6 1542.6,1408.5 1549.5,1404.8C1555.0,1401.9 1558.5,1398.6 1562.5,1393.8C1567.5,1387.8 1571.2,1377.9 1575.6,1370.4C1579.9,1363.2 1584.4,1355.1 1588.6,1349.5C1591.7,1345.3 1594.5,1339.2 1597.7,1339.0C1600.7,1338.8 1604.3,1343.3 1606.9,1346.9C1610.2,1351.5 1612.2,1358.9 1614.7,1365.2C1617.4,1371.9 1619.9,1379.7 1622.5,1386.0C1624.7,1391.3 1625.8,1398.0 1629.0,1400.4C1631.4,1402.2 1635.4,1400.2 1638.1,1401.7C1641.2,1403.4 1643.1,1407.7 1646.0,1410.8C1649.2,1414.2 1652.6,1419.9 1656.4,1421.2C1659.6,1422.3 1662.9,1419.8 1666.8,1420.0C1672.1,1420.2 1678.8,1424.1 1685.1,1423.8C1691.9,1423.5 1699.6,1419.6 1706.0,1417.3C1711.6,1415.3 1716.0,1413.2 1721.6,1410.8C1728.1,1408.0 1736.3,1405.5 1742.5,1401.7C1748.4,1398.1 1753.3,1392.8 1758.1,1388.6C1762.4,1384.8 1766.0,1382.4 1770.0,1377.7C1775.5,1371.3 1781.0,1361.2 1786.7,1352.6C1792.8,1343.5 1798.9,1331.0 1805.5,1324.5C1810.2,1319.9 1815.2,1317.2 1820.0,1315.1C1824.2,1313.3 1828.6,1313.9 1832.6,1312.0C1837.0,1309.9 1840.9,1302.7 1845.1,1302.6C1849.2,1302.5 1853.4,1308.3 1857.6,1310.9C1861.7,1313.5 1866.0,1317.9 1870.1,1318.2C1873.7,1318.5 1877.1,1313.5 1880.6,1314.0C1884.7,1314.6 1890.0,1323.3 1893.1,1323.4C1894.8,1323.5 1895.8,1320.6 1897.2,1320.9C1899.3,1321.3 1900.6,1327.7 1903.5,1329.7C1906.7,1331.9 1911.8,1330.5 1916.0,1332.8C1921.6,1335.8 1927.7,1343.2 1932.7,1348.5C1937.3,1353.3 1940.6,1358.2 1945.2,1363.1C1950.3,1368.6 1956.6,1374.2 1961.9,1379.8C1967.0,1385.3 1972.3,1390.5 1976.5,1396.4C1980.6,1402.3 1983.5,1408.5 1986.9,1415.2C1990.5,1422.4 1994.5,1432.1 1997.4,1438.2C1999.4,1442.4 2000.8,1448.5 2002.6,1448.6C2004.3,1448.7 2005.9,1440.3 2007.8,1440.3C2010.1,1440.3 2012.4,1452.6 2015.1,1452.8C2017.7,1453.0 2021.2,1441.8 2023.4,1442.3C2026.6,1443.0 2026.3,1468.2 2029.7,1469.5C2031.5,1470.2 2033.7,1465.3 2036.0,1465.3C2038.8,1465.3 2041.8,1471.0 2045.3,1471.5C2049.1,1472.0 2054.2,1466.3 2057.9,1467.4C2062.0,1468.6 2065.2,1480.3 2068.3,1479.9C2072.0,1479.4 2074.2,1458.7 2077.7,1458.0C2080.0,1457.6 2082.6,1462.9 2085.0,1465.3" fill="none" stroke="#008000" stroke-width="2.00" stroke-linejoin="round" shape-rendering="crispEdges" />
<path d="M227.5,1028.0C230.7,1025.8 233.9,1021.1 237.0,1021.4C240.5,1021.7 244.6,1027.8 247.2,1031.6C249.6,1035.2 251.0,1038.1 252.3,1043.5C254.7,1053.4 254.3,1072.5 255.7,1087.8C257.2,1104.2 257.9,1128.6 260.9,1138.9C262.3,1143.7 264.6,1144.3 266.0,1149.0C268.7,1157.9 269.0,1179.0 271.0,1190.0C272.4,1197.5 273.8,1208.5 275.5,1208.6C277.2,1208.7 279.6,1197.8 281.3,1190.0C284.1,1177.3 285.9,1157.2 288.0,1138.9C290.5,1117.8 292.7,1093.4 295.0,1070.7C297.3,1048.0 299.5,1025.3 301.7,1002.6C304.0,979.9 303.6,949.3 308.5,934.5C311.1,926.5 315.1,917.7 318.7,917.5C322.0,917.3 326.3,931.7 329.0,931.0C334.2,929.5 334.1,888.2 335.8,866.4C337.5,844.0 337.3,815.2 339.2,798.4C340.3,788.4 341.6,774.6 343.3,774.5C345.0,774.4 347.7,788.3 349.4,798.4C352.1,815.2 352.9,841.4 354.5,866.4C356.4,897.0 357.2,943.3 359.6,968.6C361.0,983.6 363.0,1004.4 364.7,1004.4C366.4,1004.4 368.2,983.1 369.8,968.6C372.2,946.3 374.1,907.3 376.0,883.5C377.4,866.3 378.6,839.2 380.0,839.2C381.6,839.2 383.7,877.5 385.1,900.5C386.9,930.2 386.6,982.9 389.2,1002.6C390.3,1010.8 391.9,1019.8 393.0,1019.7C394.9,1019.6 395.6,989.7 397.0,968.6C399.2,934.1 401.7,881.2 403.9,832.4C406.5,775.9 409.8,699.6 411.3,649.4C412.4,614.2 412.5,589.6 413.2,559.7C413.9,529.8 414.7,494.4 415.4,470.0C415.9,453.2 416.3,440.6 416.8,427.3C417.3,415.6 417.8,404.3 418.4,394.3C418.9,386.0 418.9,377.0 420.0,371.6C420.6,368.4 421.9,364.3 422.4,364.3C422.8,364.3 423.0,367.0 423.2,369.0C423.6,372.7 423.5,378.9 423.8,384.6C424.2,391.4 424.9,399.2 425.4,406.8C425.9,414.7 426.5,423.7 427.0,431.0C427.4,437.0 427.6,441.5 428.1,447.3C428.6,454.0 429.4,459.3 430.0,469.0C431.2,488.9 431.6,529.6 432.6,559.7C433.6,589.7 435.0,617.9 436.0,649.4C437.1,684.3 437.4,717.3 438.5,760.0C440.0,818.6 442.3,904.4 444.7,968.6C446.7,1023.6 448.9,1075.9 451.5,1121.8C453.6,1159.3 455.6,1195.8 458.4,1224.0C460.4,1244.0 461.2,1266.1 465.2,1275.0C466.9,1278.8 469.2,1282.2 471.3,1282.0C473.8,1281.8 476.9,1269.7 479.0,1270.0C481.7,1270.4 483.3,1291.5 485.0,1291.4C487.6,1291.2 488.0,1256.1 490.7,1241.0C493.0,1228.5 496.9,1222.3 499.2,1207.0C503.7,1176.9 504.4,1108.2 506.0,1070.7C507.1,1044.3 507.0,1029.2 508.3,1003.3C510.1,968.1 513.2,909.0 516.6,878.6C518.6,861.0 521.1,837.0 523.3,837.0C526.0,837.0 528.1,885.3 531.2,899.4C532.9,906.8 535.1,909.1 536.6,916.0C538.9,926.6 539.8,944.4 541.6,957.5C543.3,969.2 545.3,990.9 547.0,990.8C549.7,990.7 551.3,925.9 554.0,899.4C556.1,879.0 559.0,845.3 561.0,845.4C563.3,845.5 564.8,891.9 566.5,920.0C568.7,956.3 570.4,1007.4 572.7,1044.8C574.6,1075.3 576.6,1109.0 579.0,1128.0C580.3,1138.0 580.9,1150.5 583.1,1150.8C585.0,1151.1 588.5,1135.9 590.6,1136.2C594.0,1136.7 595.2,1164.3 597.6,1177.8C599.9,1190.6 602.1,1215.2 604.7,1215.2C607.3,1215.2 610.5,1177.7 613.0,1177.8C615.9,1177.9 618.4,1211.8 620.5,1231.8C623.1,1256.5 623.7,1294.5 626.7,1315.0C628.5,1327.2 629.7,1343.4 633.0,1344.0C635.7,1344.5 639.5,1328.5 643.3,1327.4C645.9,1326.6 649.4,1332.6 651.7,1331.5C656.4,1329.2 657.8,1310.3 660.0,1294.0C663.9,1264.7 664.4,1218.2 666.2,1169.5C668.8,1100.7 670.6,999.3 672.4,920.0C674.0,847.6 675.2,769.0 676.6,712.4C677.6,673.2 678.4,613.0 679.5,613.0C681.0,613.0 683.3,725.6 684.9,795.5C687.1,889.8 688.6,1027.5 690.3,1128.0C691.7,1211.3 690.3,1318.3 694.5,1356.5C695.9,1369.5 696.8,1381.8 699.8,1382.3C702.6,1382.8 707.6,1363.5 711.3,1363.6C715.3,1363.7 719.8,1385.9 722.8,1385.5C726.6,1384.9 727.2,1358.7 730.0,1346.9C732.4,1336.7 735.3,1318.6 738.0,1318.7C741.6,1318.8 743.3,1371.0 748.8,1371.9C753.2,1372.6 761.1,1342.3 765.5,1342.7C769.7,1343.1 771.7,1370.7 774.9,1370.9C777.3,1371.0 780.0,1355.0 782.2,1355.2C785.0,1355.4 785.3,1377.1 789.5,1382.3C792.2,1385.6 796.8,1388.0 800.0,1387.5C803.4,1386.9 805.8,1381.1 809.3,1378.2C813.0,1375.1 818.0,1373.6 821.8,1369.8C826.5,1365.1 830.1,1354.7 834.4,1351.0C837.1,1348.6 840.4,1349.9 842.7,1346.9C847.6,1340.5 848.6,1319.0 851.0,1305.0C853.4,1291.1 855.4,1281.0 857.3,1263.4C860.5,1233.4 862.6,1185.4 864.7,1141.0C867.2,1088.1 868.6,1024.4 870.8,967.0C873.0,910.8 876.7,837.9 877.9,800.0C878.5,780.5 878.3,769.5 878.8,755.6C879.2,743.3 879.4,730.4 880.5,720.8C881.3,713.9 882.6,703.3 883.6,703.3C884.7,703.3 885.8,716.8 886.6,725.1C887.7,736.3 888.2,752.6 889.2,764.4C890.0,774.0 891.0,784.0 891.8,790.5C892.3,794.5 892.7,794.9 893.2,800.0C895.1,821.4 896.6,910.8 898.5,967.0C900.5,1024.4 902.7,1088.8 905.0,1141.0C906.9,1183.8 908.7,1216.3 911.0,1257.7C913.6,1305.0 916.3,1378.3 919.9,1409.5C921.5,1423.5 920.3,1436.0 925.1,1439.7C928.3,1442.2 934.8,1440.1 938.7,1438.7C942.3,1437.5 945.3,1431.8 948.0,1432.4C950.9,1433.0 951.4,1441.9 955.3,1443.9C960.1,1446.4 971.1,1440.8 976.2,1442.8C980.0,1444.3 981.7,1450.9 984.5,1451.2C986.9,1451.4 988.5,1447.2 991.9,1446.0C997.5,1444.1 1007.9,1444.7 1016.1,1444.7C1024.6,1444.7 1036.2,1444.2 1042.2,1446.0C1045.7,1447.1 1046.8,1449.5 1050.0,1450.7C1054.1,1452.3 1061.0,1454.8 1065.1,1453.8C1068.5,1453.0 1071.3,1451.0 1073.4,1447.3C1077.5,1440.3 1075.8,1409.7 1078.7,1409.5C1081.8,1409.2 1087.3,1450.7 1091.7,1451.2C1094.3,1451.5 1096.5,1441.3 1099.5,1438.2C1101.9,1435.7 1105.0,1436.0 1107.3,1433.0C1111.4,1427.7 1114.6,1405.5 1117.3,1405.6C1119.7,1405.7 1119.2,1423.9 1123.0,1427.7C1125.6,1430.3 1130.6,1428.1 1133.4,1430.4C1137.0,1433.3 1138.4,1445.7 1141.2,1446.0C1143.3,1446.3 1145.4,1438.8 1147.8,1438.2C1149.8,1437.7 1152.4,1438.7 1154.3,1440.8C1158.3,1445.4 1158.6,1471.3 1162.1,1472.0C1164.4,1472.5 1167.7,1461.4 1170.0,1461.6C1172.5,1461.8 1174.7,1475.0 1176.4,1474.7C1180.3,1474.0 1178.9,1401.9 1181.7,1401.7C1183.5,1401.6 1185.4,1428.5 1188.2,1429.0C1190.1,1429.3 1192.1,1419.0 1194.7,1418.6C1197.3,1418.2 1199.6,1424.5 1203.8,1426.4C1210.0,1429.2 1222.0,1432.2 1229.9,1430.4C1237.6,1428.6 1245.8,1415.0 1250.8,1416.0C1254.5,1416.7 1255.5,1426.0 1258.6,1427.7C1260.9,1428.9 1264.0,1426.3 1266.4,1427.7C1270.4,1430.0 1272.9,1444.5 1276.8,1446.0C1279.3,1446.9 1282.5,1442.5 1284.7,1443.4C1287.6,1444.6 1288.1,1452.8 1291.2,1456.4C1294.5,1460.2 1300.8,1466.2 1304.2,1465.6C1307.0,1465.1 1307.0,1458.8 1310.7,1456.4C1317.2,1452.2 1336.7,1448.8 1344.6,1449.9C1349.2,1450.5 1350.6,1454.1 1355.0,1455.1C1361.4,1456.5 1371.9,1455.6 1380.0,1454.3C1388.0,1453.0 1395.6,1448.5 1403.5,1447.3C1411.2,1446.2 1419.0,1448.7 1426.9,1447.3C1435.5,1445.8 1447.2,1438.3 1453.0,1437.7C1455.8,1437.4 1457.5,1437.5 1459.5,1438.7C1462.0,1440.2 1462.1,1445.2 1466.0,1447.3C1473.8,1451.5 1496.3,1449.3 1510.4,1449.9C1523.2,1450.4 1536.9,1451.5 1546.9,1450.7C1554.0,1450.1 1559.3,1449.9 1565.1,1447.3C1571.6,1444.4 1577.3,1437.6 1583.4,1433.0C1589.4,1428.5 1596.2,1422.6 1601.6,1419.9C1605.4,1418.0 1608.7,1415.8 1612.1,1416.8C1616.7,1418.2 1620.3,1430.8 1625.1,1432.4C1628.8,1433.6 1632.8,1428.5 1636.8,1429.8C1643.1,1431.9 1648.6,1446.3 1656.4,1452.5C1664.5,1458.9 1676.1,1464.4 1685.1,1467.4C1692.4,1469.8 1699.8,1470.3 1706.0,1470.8C1710.8,1471.2 1713.8,1470.2 1719.0,1470.8C1727.2,1471.7 1741.0,1476.5 1750.3,1477.8C1757.6,1478.8 1763.4,1479.7 1770.0,1478.8C1777.0,1477.8 1783.1,1473.2 1790.9,1471.5C1800.2,1469.5 1810.4,1468.7 1822.1,1468.4C1837.3,1468.0 1857.9,1470.2 1874.3,1470.5C1889.0,1470.8 1901.3,1470.4 1916.0,1470.5C1932.4,1470.7 1954.7,1471.4 1968.2,1471.5C1976.7,1471.6 1982.9,1469.9 1989.0,1471.5C1994.5,1473.0 1998.5,1480.2 2003.6,1479.9C2009.8,1479.5 2018.2,1464.8 2023.4,1465.3C2027.3,1465.7 2029.8,1475.7 2032.8,1475.7C2035.7,1475.7 2038.4,1466.1 2041.2,1466.3C2044.4,1466.5 2047.1,1479.5 2050.6,1479.9C2054.0,1480.3 2058.5,1469.4 2062.0,1469.5C2065.0,1469.6 2067.9,1478.2 2070.4,1477.8C2073.6,1477.3 2075.9,1461.4 2078.7,1461.1C2080.8,1460.9 2082.9,1466.7 2085.0,1469.5" fill="none" stroke="#FF80FF" stroke-width="2.00" stroke-linejoin="round" shape-rendering="crispEdges" />
<path d="M227.5,863.0C230.1,869.8 232.9,875.7 235.3,883.5C238.4,893.3 241.2,906.1 243.8,917.5C246.3,928.8 248.7,939.0 250.6,951.6C252.9,966.8 253.9,986.5 255.7,1002.6C257.3,1017.0 259.0,1029.4 260.9,1043.5C263.0,1058.8 265.1,1077.1 267.7,1091.2C269.8,1102.6 271.9,1113.5 274.5,1121.8C276.4,1127.8 278.6,1137.0 280.6,1137.0C282.6,1137.0 284.7,1128.3 286.4,1121.8C289.3,1111.0 290.9,1093.7 293.2,1077.6C296.0,1058.1 299.0,1035.8 301.7,1012.9C304.7,987.2 305.5,948.4 310.2,931.0C312.6,922.3 315.5,912.7 318.7,912.4C321.8,912.1 325.9,924.6 329.0,927.7C330.8,929.5 332.7,928.9 334.0,931.0C336.8,935.5 336.2,958.4 337.5,958.4C339.2,958.4 340.6,912.6 343.3,912.4C345.4,912.3 348.7,930.2 351.1,941.4C354.3,956.6 356.1,982.9 359.6,995.8C361.6,1003.3 364.5,1006.3 366.4,1012.9C368.8,1021.5 369.4,1037.1 371.5,1043.5C372.6,1046.7 374.0,1050.5 375.0,1050.3C378.0,1049.7 378.3,1004.7 380.0,985.6C381.3,970.4 382.9,944.8 384.1,944.8C385.5,944.8 386.4,980.6 387.5,1002.6C389.0,1031.8 389.6,1085.1 392.0,1104.8C393.0,1112.9 394.2,1121.8 395.4,1121.8C397.0,1121.8 399.0,1100.7 400.5,1087.8C402.4,1071.1 402.9,1045.2 405.0,1030.0C406.4,1019.9 408.6,1017.2 410.0,1005.0C413.7,973.4 413.9,890.8 415.8,832.4C417.8,772.3 420.5,699.6 421.8,649.4C422.7,614.2 422.8,589.6 423.6,559.7C424.4,529.8 425.9,492.1 426.6,470.0C427.0,457.1 427.3,450.2 427.6,439.2C427.9,426.6 427.9,408.5 428.4,398.6C428.7,392.9 429.1,389.2 429.5,385.0C429.8,381.4 430.1,377.8 430.5,374.9C430.8,372.7 431.0,370.7 431.4,369.0C431.7,367.5 432.2,365.1 432.7,365.1C433.3,365.1 434.1,369.0 434.6,371.6C435.3,375.2 435.4,379.3 435.7,385.0C436.3,394.9 436.8,413.9 437.3,425.7C437.7,434.8 438.2,442.3 438.4,450.0C438.6,457.0 438.4,460.9 438.6,470.0C439.1,489.2 441.3,529.8 442.3,559.7C443.3,589.6 443.7,617.7 444.6,649.4C445.6,685.3 446.8,724.2 448.0,764.0C449.3,807.4 450.4,857.6 452.0,900.0C453.4,937.3 455.3,970.4 457.0,1005.0C458.6,1038.7 459.8,1072.9 461.8,1104.8C463.7,1134.3 465.8,1168.1 468.6,1190.0C470.4,1203.9 470.8,1216.4 474.7,1224.0C477.2,1228.8 481.9,1234.9 484.3,1234.0C489.4,1232.2 486.6,1190.3 489.0,1173.0C490.8,1159.9 493.9,1153.4 495.8,1138.9C499.1,1114.0 500.6,1071.9 502.6,1036.7C504.8,999.1 506.4,959.5 508.3,920.0C510.3,879.2 512.3,831.7 514.5,795.5C516.2,767.4 517.2,735.0 520.0,720.7C521.2,714.7 522.5,708.2 524.0,708.3C526.6,708.4 530.1,745.5 533.2,745.6C536.0,745.7 538.9,724.9 541.6,716.6C543.7,710.3 545.9,707.5 547.8,700.0C551.5,685.4 554.6,633.4 557.3,633.5C560.2,633.6 562.4,683.1 564.4,712.4C567.0,749.2 568.4,797.3 570.6,837.0C572.6,873.2 574.0,915.1 576.9,941.0C578.6,956.6 580.4,968.4 583.0,978.3C584.8,985.1 587.5,987.3 589.3,995.0C592.8,1010.2 593.5,1041.7 595.6,1065.6C597.7,1090.2 599.5,1119.4 601.8,1140.4C603.5,1155.7 605.1,1179.9 607.2,1180.0C608.7,1180.1 610.8,1168.0 612.2,1161.0C613.9,1152.4 615.0,1132.0 616.3,1132.0C618.1,1132.0 620.0,1168.9 621.3,1190.0C622.9,1215.2 622.7,1247.3 624.7,1273.0C626.5,1295.4 627.8,1335.0 632.1,1335.7C634.6,1336.1 638.5,1316.9 641.3,1317.0C644.0,1317.1 646.2,1335.8 648.7,1335.7C651.8,1335.6 655.4,1319.3 657.9,1306.6C662.4,1284.1 664.0,1250.4 666.2,1211.0C669.7,1147.5 670.7,1048.0 672.4,961.7C674.2,868.5 675.0,718.9 676.6,670.9C677.1,655.1 677.9,651.2 678.3,639.4C678.8,624.1 678.5,604.8 678.7,587.0C679.0,568.6 679.5,547.6 679.8,531.0C680.1,517.7 680.1,504.1 680.6,495.0C680.9,489.5 681.4,481.7 681.7,481.7C682.1,481.7 682.4,494.1 682.7,500.0C682.9,505.5 683.0,509.5 683.2,516.0C683.5,526.3 683.8,541.7 684.1,555.7C684.4,571.4 684.8,590.7 685.0,605.7C685.2,618.0 685.1,624.1 685.3,639.4C685.6,672.4 686.3,733.7 687.0,795.5C688.0,885.6 689.5,1034.5 691.0,1128.0C692.1,1196.2 691.5,1268.9 694.6,1305.0C696.0,1321.1 695.4,1336.9 699.8,1339.6C702.2,1341.0 706.3,1337.9 709.2,1336.4C712.2,1334.8 714.9,1330.0 717.5,1330.2C720.1,1330.4 722.5,1338.1 724.8,1337.5C729.3,1336.3 732.6,1297.9 736.3,1297.9C740.2,1298.0 743.3,1341.1 747.8,1341.7C750.7,1342.1 754.0,1331.5 757.2,1326.0C760.6,1320.0 764.7,1306.8 767.6,1307.2C771.5,1307.8 771.6,1339.9 776.0,1344.8C777.8,1346.8 780.4,1345.0 782.2,1346.9C786.1,1351.0 786.8,1368.6 790.6,1376.0C793.4,1381.4 798.0,1389.0 800.6,1388.6C803.1,1388.2 803.2,1377.0 806.2,1375.0C808.6,1373.4 812.3,1375.7 815.6,1375.0C819.5,1374.2 824.9,1372.5 828.1,1369.8C831.1,1367.2 831.9,1362.6 834.4,1359.4C836.8,1356.3 840.5,1354.9 842.7,1351.0C846.0,1345.2 846.9,1334.8 849.0,1326.0C851.4,1316.2 854.6,1306.0 856.3,1294.7C858.3,1281.9 858.3,1270.3 859.4,1253.0C861.1,1224.7 863.0,1182.4 864.7,1141.0C866.8,1089.4 868.6,1024.4 870.5,967.0C872.3,910.8 874.7,835.2 875.7,800.0C876.2,783.8 876.3,776.2 876.6,764.4C876.9,752.7 877.2,741.1 877.5,729.5C877.8,717.9 877.9,705.8 878.3,694.6C878.6,684.1 879.0,672.4 879.6,664.1C880.0,658.3 880.2,653.8 881.0,649.3C881.7,645.4 882.8,638.4 883.6,638.4C884.4,638.4 885.1,646.0 885.7,651.0C886.5,658.1 886.9,668.5 887.5,677.2C888.1,685.9 888.7,694.0 889.2,703.3C889.8,714.1 890.5,725.4 891.0,738.2C891.7,753.9 892.0,767.9 892.7,790.5C894.0,832.0 896.1,908.4 898.0,967.0C899.9,1025.2 901.8,1088.8 904.0,1141.0C905.8,1183.8 907.9,1217.7 909.8,1257.7C911.8,1300.1 913.1,1356.2 915.7,1388.6C917.2,1407.9 916.1,1430.2 921.0,1434.5C922.9,1436.2 925.3,1435.1 928.2,1434.5C933.1,1433.5 941.8,1425.6 947.0,1426.1C951.1,1426.5 953.2,1432.2 957.4,1433.4C962.5,1434.9 971.3,1430.4 976.2,1432.4C980.4,1434.1 983.1,1443.1 985.6,1442.8C987.8,1442.5 987.6,1435.2 990.8,1433.4C995.7,1430.6 1007.6,1433.5 1016.1,1434.3C1024.8,1435.1 1036.3,1435.2 1042.2,1438.2C1046.0,1440.1 1047.0,1444.0 1050.0,1446.0C1053.0,1448.0 1057.9,1447.7 1060.4,1450.0C1062.8,1452.2 1063.3,1459.0 1065.1,1459.0C1067.5,1459.0 1071.3,1450.4 1073.4,1443.4C1077.0,1431.5 1076.6,1392.6 1078.7,1392.5C1080.3,1392.4 1081.8,1410.7 1083.9,1420.0C1086.1,1429.8 1088.8,1449.8 1091.7,1450.0C1094.1,1450.1 1096.7,1436.2 1099.5,1430.4C1101.9,1425.5 1105.2,1422.2 1107.3,1417.3C1109.7,1411.8 1110.7,1404.7 1112.6,1399.0C1114.3,1393.9 1116.3,1384.6 1117.8,1384.7C1119.9,1384.9 1119.0,1408.8 1123.0,1412.1C1125.3,1414.0 1129.5,1410.4 1132.1,1412.1C1136.4,1414.9 1138.7,1434.0 1141.8,1434.3C1143.9,1434.5 1145.5,1426.3 1147.8,1425.1C1149.4,1424.2 1151.4,1423.8 1153.0,1425.1C1157.9,1429.0 1159.4,1472.8 1163.4,1473.4C1165.5,1473.7 1168.0,1461.4 1170.0,1461.6C1172.4,1461.8 1174.9,1480.1 1176.4,1479.9C1179.0,1479.5 1178.1,1440.7 1179.0,1422.5C1179.8,1406.1 1180.0,1375.7 1181.7,1375.6C1183.2,1375.5 1185.4,1413.1 1188.2,1413.4C1190.1,1413.6 1191.9,1398.3 1194.7,1397.8C1197.2,1397.4 1199.6,1406.4 1203.8,1408.2C1209.0,1410.4 1219.8,1406.1 1224.7,1406.9C1227.5,1407.4 1228.7,1410.1 1231.2,1409.5C1236.1,1408.3 1243.8,1388.0 1249.5,1388.6C1256.0,1389.2 1264.5,1420.4 1267.7,1420.0C1269.3,1419.8 1269.4,1410.7 1270.3,1410.8C1272.2,1410.9 1274.8,1450.0 1276.8,1450.0C1278.9,1450.0 1280.2,1409.6 1282.6,1409.5C1284.7,1409.4 1285.0,1433.6 1289.9,1438.2C1293.1,1441.3 1300.3,1439.4 1302.9,1440.8C1304.3,1441.5 1303.9,1443.0 1305.5,1443.4C1310.7,1444.7 1335.8,1431.4 1344.6,1431.7C1349.2,1431.9 1350.7,1435.0 1355.0,1435.6C1361.5,1436.5 1372.1,1435.1 1380.0,1433.5C1387.4,1432.0 1393.9,1428.2 1400.9,1426.4C1407.8,1424.6 1415.2,1424.9 1421.7,1422.5C1428.2,1420.1 1434.3,1414.8 1440.0,1412.1C1444.6,1409.9 1449.4,1407.0 1453.0,1406.9C1455.5,1406.8 1457.4,1407.5 1459.5,1409.0C1462.3,1411.0 1463.2,1417.3 1467.4,1419.4C1473.8,1422.6 1486.8,1419.4 1497.3,1419.4C1508.9,1419.4 1522.4,1420.1 1533.8,1419.4C1544.0,1418.8 1555.7,1417.8 1562.5,1416.0C1566.5,1414.9 1569.0,1414.6 1571.7,1412.1C1575.5,1408.5 1576.4,1398.6 1580.8,1393.8C1585.1,1389.1 1593.0,1383.0 1597.7,1383.4C1601.3,1383.7 1603.8,1388.3 1606.9,1391.2C1610.3,1394.4 1613.9,1398.1 1617.3,1401.7C1620.8,1405.4 1624.0,1412.3 1627.7,1413.4C1630.6,1414.2 1633.6,1410.0 1636.8,1410.8C1642.0,1412.1 1648.0,1424.6 1653.8,1427.7C1658.1,1430.0 1662.0,1429.2 1666.8,1430.4C1673.0,1432.0 1679.9,1436.2 1687.7,1436.9C1697.0,1437.7 1709.0,1434.0 1719.0,1433.0C1728.1,1432.1 1736.5,1432.8 1745.0,1430.9C1753.6,1429.0 1762.3,1425.6 1770.0,1421.5C1777.5,1417.5 1783.9,1411.5 1790.9,1406.9C1797.8,1402.4 1804.6,1397.9 1811.7,1394.4C1818.5,1391.0 1825.6,1388.3 1832.6,1386.0C1839.5,1383.8 1848.1,1382.8 1853.4,1380.8C1856.9,1379.5 1858.4,1377.7 1861.8,1376.6C1866.3,1375.1 1872.7,1374.0 1878.5,1373.5C1884.8,1372.9 1891.8,1373.3 1898.3,1373.5C1904.7,1373.7 1911.2,1373.4 1917.1,1374.5C1922.6,1375.6 1927.7,1377.5 1932.7,1379.8C1937.8,1382.1 1942.4,1385.6 1947.3,1388.1C1952.1,1390.5 1957.1,1391.9 1961.9,1394.4C1966.9,1397.0 1972.0,1400.2 1976.5,1403.7C1981.0,1407.2 1985.4,1411.1 1989.0,1415.2C1992.3,1419.1 1993.9,1426.0 1997.4,1427.7C2000.4,1429.1 2004.1,1426.5 2007.8,1426.7C2012.3,1427.0 2018.3,1427.2 2022.4,1429.8C2026.8,1432.6 2028.1,1440.9 2032.8,1443.4C2037.7,1446.0 2045.2,1444.7 2051.6,1444.4C2058.4,1444.1 2066.4,1442.3 2072.5,1441.3C2077.2,1440.6 2080.8,1439.9 2085.0,1439.2" fill="none" stroke="#7F00FF" stroke-width="2.00" stroke-linejoin="round" shape-rendering="crispEdges" />
<path d="M227.8,2841.8C228.7,2852.4 229.2,2863.4 230.6,2873.6C231.9,2883.3 233.9,2901.7 235.9,2901.8C237.5,2901.9 239.6,2891.1 241.2,2884.2C243.4,2874.5 244.8,2861.5 246.5,2848.9C248.4,2834.6 249.8,2818.3 251.8,2803.0C253.9,2787.7 256.3,2771.4 258.8,2757.1C261.0,2744.5 263.6,2734.1 265.9,2721.8C268.4,2708.4 270.1,2693.6 273.0,2679.5C275.9,2665.3 279.9,2648.0 283.5,2637.0C285.8,2629.8 288.4,2623.9 290.6,2619.4C292.1,2616.5 293.5,2612.3 294.8,2612.4C296.5,2612.6 298.2,2624.9 299.4,2624.7C301.4,2624.5 301.7,2601.5 303.0,2591.2C304.1,2582.3 303.8,2570.8 306.5,2566.5C307.9,2564.3 309.8,2563.9 311.8,2563.0C313.9,2562.1 317.1,2563.1 318.8,2561.2C321.9,2557.8 321.5,2548.1 322.4,2538.3C323.9,2521.3 323.2,2488.2 324.1,2467.7C324.8,2451.8 325.9,2425.3 326.6,2425.3C327.5,2425.3 328.0,2475.1 328.7,2503.0C329.5,2535.6 330.4,2578.6 331.2,2608.9C331.8,2631.7 331.0,2668.7 332.9,2668.9C334.1,2669.0 336.4,2652.1 338.2,2644.2C339.9,2636.8 340.7,2627.5 343.5,2623.0C345.2,2620.2 347.8,2617.4 349.9,2617.7C352.5,2618.0 355.2,2628.4 357.6,2628.3C360.1,2628.2 362.5,2620.8 364.7,2616.0C367.4,2610.0 369.8,2603.6 371.8,2594.7C375.0,2580.5 376.8,2558.2 378.8,2538.3C381.0,2516.1 382.7,2493.6 384.1,2467.7C385.8,2436.0 386.6,2397.1 387.7,2361.8C388.8,2326.5 389.8,2292.6 390.5,2255.9C391.3,2216.1 391.6,2131.6 392.2,2131.6C392.6,2131.6 393.0,2160.6 393.5,2180.0C394.3,2209.5 395.7,2249.9 396.5,2291.2C397.5,2343.3 396.6,2426.1 398.2,2467.7C399.1,2490.5 399.9,2505.8 401.8,2520.6C403.2,2531.5 405.2,2539.7 407.0,2548.8C408.7,2557.3 410.7,2564.6 412.4,2573.6C414.4,2584.3 415.9,2597.1 417.7,2608.9C419.5,2620.7 420.8,2634.8 423.0,2644.2C424.5,2650.6 425.5,2656.8 428.2,2660.0C430.1,2662.2 433.1,2664.1 435.3,2663.6C437.9,2663.0 440.1,2658.7 442.4,2654.7C446.1,2648.1 449.4,2637.1 453.0,2626.5C457.6,2613.1 462.5,2596.8 467.0,2580.6C471.9,2562.8 477.2,2544.9 481.2,2524.1C486.0,2499.1 488.6,2463.7 492.4,2440.8C495.1,2424.5 498.3,2413.9 500.7,2399.3C503.3,2383.0 505.2,2366.8 507.0,2347.5C509.2,2323.1 510.8,2290.2 512.2,2264.5C513.4,2242.3 514.0,2220.2 514.9,2202.2C515.6,2188.5 516.3,2166.0 516.9,2166.0C517.8,2166.0 518.3,2220.8 519.0,2250.0C519.7,2281.9 520.2,2314.0 521.0,2350.0C522.0,2392.4 522.9,2488.5 524.6,2488.5C526.0,2488.5 527.9,2415.8 529.8,2389.0C531.1,2370.8 532.5,2357.1 534.0,2343.3C535.3,2331.9 535.9,2315.9 538.0,2312.2C538.6,2311.2 539.4,2311.5 540.0,2310.7C541.0,2309.5 541.5,2306.9 542.8,2305.1C544.3,2303.1 546.9,2301.7 548.5,2299.4C550.3,2296.7 551.4,2293.1 552.7,2289.5C554.2,2285.3 555.6,2280.6 556.9,2275.4C558.5,2269.1 559.5,2260.1 561.2,2254.2C562.5,2249.8 563.6,2246.1 565.4,2242.9C567.0,2240.1 569.3,2238.5 571.1,2235.9C573.1,2233.0 574.9,2229.7 576.7,2226.0C578.7,2221.8 581.0,2216.9 582.4,2211.9C583.9,2206.6 583.9,2199.5 585.2,2194.9C586.2,2191.5 586.9,2187.2 588.7,2186.4C590.0,2185.8 592.0,2187.3 593.7,2187.9C595.5,2188.5 597.2,2189.9 599.3,2190.0C601.8,2190.1 605.5,2189.5 607.8,2187.9C610.3,2186.1 611.5,2182.6 613.4,2179.4C615.7,2175.6 618.1,2170.2 620.5,2166.7C622.4,2163.9 624.2,2162.2 626.2,2159.6C628.5,2156.6 631.4,2153.5 633.2,2149.7C635.2,2145.6 636.1,2140.3 637.5,2135.6C638.9,2130.9 640.6,2126.8 641.7,2121.5C643.1,2114.9 643.7,2106.4 644.5,2098.9C645.3,2091.4 645.9,2084.2 646.6,2076.3C647.3,2067.7 647.9,2057.8 648.8,2049.4C649.6,2041.9 650.2,2034.9 651.6,2028.2C652.9,2022.0 654.9,2010.6 656.6,2010.6C658.2,2010.6 660.3,2021.6 661.5,2028.2C663.0,2036.5 663.4,2046.8 664.3,2056.5C665.3,2066.6 665.3,2079.9 667.1,2087.6C668.2,2092.4 669.8,2095.2 671.4,2098.9C673.1,2102.7 675.2,2106.2 677.0,2110.2C679.0,2114.6 681.0,2119.7 682.7,2124.3C684.3,2128.6 685.6,2132.3 686.9,2137.0C688.4,2142.5 689.7,2149.0 691.1,2155.4C692.6,2162.2 693.9,2169.5 695.4,2176.6C696.9,2183.6 698.0,2190.8 700.0,2197.7C702.1,2204.7 705.0,2210.8 707.7,2218.4C710.9,2227.6 715.1,2249.1 717.9,2249.0C720.7,2248.9 722.8,2229.8 724.7,2218.4C727.0,2204.3 727.8,2183.6 729.8,2170.7C731.2,2161.9 733.0,2148.4 734.3,2148.5C735.9,2148.6 737.1,2169.3 738.3,2184.3C740.4,2209.6 741.9,2248.0 743.5,2286.4C745.5,2335.9 746.8,2403.1 748.6,2456.7C750.2,2504.6 751.9,2550.8 753.7,2592.9C755.3,2629.4 756.4,2662.7 758.8,2695.0C760.9,2724.2 764.2,2750.9 766.9,2778.2C769.5,2804.7 772.3,2833.7 774.7,2856.5C776.6,2874.1 776.9,2889.5 779.9,2903.4C782.4,2915.0 786.0,2926.8 790.3,2934.7C793.4,2940.3 796.9,2944.6 800.8,2947.7C804.0,2950.3 807.8,2951.1 811.2,2953.0C814.7,2955.0 817.8,2959.0 821.6,2959.5C825.6,2960.0 830.9,2958.1 834.7,2955.5C838.9,2952.7 842.3,2948.3 845.1,2942.5C849.1,2934.2 850.8,2921.2 852.9,2908.6C855.4,2893.2 855.9,2872.3 858.1,2856.5C859.9,2843.2 860.5,2827.2 864.6,2820.0C866.9,2816.0 870.9,2812.0 873.2,2812.6C876.1,2813.4 877.0,2823.6 879.0,2830.4C881.6,2839.3 884.5,2850.8 886.8,2861.7C889.3,2873.4 891.3,2886.5 893.3,2898.2C895.2,2909.0 893.9,2924.7 898.5,2929.5C901.3,2932.5 906.8,2931.6 910.3,2932.0C913.2,2932.3 915.8,2933.1 918.1,2932.0C920.7,2930.8 922.9,2928.0 924.6,2924.3C927.6,2918.0 928.5,2905.2 929.8,2895.6C931.1,2886.2 931.4,2867.3 932.5,2867.3C933.6,2867.3 935.5,2884.9 936.4,2895.6C937.6,2909.6 933.9,2936.6 938.2,2944.3C940.1,2947.7 943.2,2947.8 946.0,2949.5C949.2,2951.4 953.4,2952.3 956.4,2954.8C959.6,2957.4 962.1,2961.6 964.3,2965.2C966.4,2968.6 967.5,2975.4 969.5,2975.6C971.4,2975.8 973.2,2968.4 976.0,2967.8C979.1,2967.1 982.9,2971.5 987.7,2973.0C994.6,2975.2 1005.8,2976.4 1013.8,2978.2C1020.7,2979.8 1027.2,2981.4 1033.0,2983.0C1037.8,2984.3 1042.9,2984.5 1046.0,2986.9C1048.7,2989.0 1049.7,2996.2 1051.3,2996.0C1053.4,2995.7 1055.0,2984.2 1056.5,2976.5C1058.6,2965.7 1060.0,2948.7 1061.7,2937.3C1063.0,2928.5 1064.0,2914.0 1065.6,2913.9C1067.1,2913.8 1069.3,2927.5 1070.8,2934.7C1072.4,2942.3 1073.4,2950.7 1074.8,2958.2C1076.1,2965.0 1077.2,2977.8 1078.7,2977.8C1080.3,2977.8 1081.0,2959.2 1083.9,2955.6C1085.3,2953.8 1087.6,2954.8 1089.1,2953.0C1092.1,2949.5 1093.3,2937.8 1095.6,2932.1C1097.3,2928.0 1099.1,2925.2 1100.8,2921.7C1102.4,2918.2 1104.1,2911.1 1105.5,2911.3C1107.5,2911.5 1108.5,2927.7 1110.0,2934.7C1111.3,2940.5 1110.9,2948.4 1113.9,2950.4C1116.3,2952.0 1121.6,2947.3 1124.3,2949.1C1128.7,2952.1 1127.9,2975.9 1130.8,2976.5C1132.7,2976.9 1134.9,2967.8 1137.3,2967.3C1139.3,2966.9 1142.1,2968.6 1143.9,2971.2C1147.5,2976.4 1147.4,2993.1 1149.1,3002.5C1150.5,3010.2 1151.1,3023.2 1153.0,3023.4C1154.7,3023.6 1157.4,3007.6 1159.5,3007.7C1161.7,3007.8 1164.4,3026.2 1166.0,3026.0C1168.6,3025.7 1168.9,2994.3 1169.9,2976.5C1171.1,2955.7 1170.7,2908.8 1172.5,2908.7C1173.5,2908.6 1175.5,2922.1 1176.5,2929.5C1177.6,2938.0 1176.6,2956.3 1178.5,2956.9C1179.3,2957.2 1180.7,2954.8 1181.7,2953.0C1183.3,2950.0 1183.9,2940.1 1185.6,2940.0C1187.3,2939.8 1188.9,2950.7 1192.1,2953.0C1194.8,2954.9 1198.9,2954.6 1202.5,2954.3C1206.6,2954.0 1211.5,2950.3 1215.6,2950.4C1219.3,2950.5 1222.9,2955.2 1226.0,2954.3C1230.0,2953.1 1233.3,2944.7 1236.4,2940.0C1239.3,2935.6 1241.6,2927.0 1244.3,2926.9C1246.9,2926.8 1249.5,2938.6 1252.1,2938.6C1254.7,2938.6 1257.9,2931.7 1259.9,2926.9C1262.5,2920.6 1263.1,2903.4 1264.6,2903.4C1266.6,2903.5 1268.1,2943.8 1270.3,2943.9C1272.2,2944.0 1274.9,2912.5 1276.8,2912.6C1278.8,2912.7 1278.0,2940.7 1282.0,2947.8C1284.3,2952.0 1288.7,2952.2 1291.2,2955.6C1294.2,2959.6 1295.8,2966.7 1297.7,2971.2C1299.2,2974.7 1300.2,2980.4 1301.6,2980.4C1303.2,2980.4 1303.9,2971.4 1306.8,2968.6C1309.9,2965.7 1314.7,2964.0 1319.9,2963.4C1327.0,2962.6 1337.7,2967.2 1345.9,2967.3C1353.2,2967.4 1360.1,2964.4 1366.8,2964.7C1373.1,2965.0 1379.3,2969.1 1385.1,2968.6C1390.6,2968.1 1395.1,2965.3 1400.7,2962.1C1408.4,2957.7 1419.0,2950.0 1426.1,2943.3C1432.3,2937.5 1436.3,2930.5 1441.7,2925.0C1446.7,2919.9 1452.8,2911.6 1457.4,2911.5C1460.8,2911.4 1463.3,2918.5 1466.5,2918.5C1470.2,2918.5 1473.8,2912.7 1478.2,2909.4C1483.6,2905.4 1490.9,2901.4 1496.5,2896.3C1502.3,2891.0 1507.0,2885.3 1512.1,2878.1C1518.4,2869.3 1524.9,2858.0 1530.4,2846.8C1536.3,2834.7 1540.1,2819.8 1546.0,2807.7C1551.5,2796.5 1558.5,2786.5 1564.3,2776.4C1569.7,2767.0 1574.0,2751.6 1579.9,2749.0C1583.6,2747.4 1587.7,2752.8 1591.7,2751.6C1597.3,2750.0 1603.5,2740.5 1608.6,2734.7C1613.4,2729.2 1617.0,2722.7 1621.6,2717.7C1625.8,2713.2 1630.9,2711.6 1634.7,2706.0C1640.3,2697.6 1643.1,2680.8 1647.7,2669.5C1651.9,2659.3 1656.8,2650.2 1660.8,2640.8C1664.6,2631.9 1666.9,2622.0 1671.2,2614.7C1674.9,2608.5 1679.3,2600.6 1684.2,2599.1C1688.2,2597.9 1693.6,2600.3 1697.3,2603.0C1701.6,2606.0 1704.6,2611.4 1707.7,2617.3C1711.8,2625.2 1713.1,2642.7 1718.1,2647.3C1721.0,2650.0 1725.6,2648.3 1728.5,2649.9C1731.1,2651.3 1732.6,2656.0 1735.0,2656.0C1737.8,2656.1 1741.2,2651.6 1744.2,2648.0C1748.3,2642.9 1752.1,2635.3 1756.0,2627.3C1761.0,2617.2 1766.0,2604.2 1770.8,2591.9C1775.9,2578.7 1780.4,2561.7 1785.5,2550.6C1789.2,2542.5 1793.2,2530.7 1796.8,2530.5C1799.6,2530.4 1802.6,2536.4 1804.7,2541.7C1808.5,2551.3 1808.8,2570.2 1810.6,2586.0C1812.7,2604.2 1814.5,2623.3 1816.5,2645.0C1818.9,2671.5 1821.2,2704.0 1823.9,2733.5C1826.6,2763.0 1829.6,2793.9 1832.7,2822.0C1835.5,2847.7 1837.9,2872.9 1841.6,2895.7C1844.8,2915.8 1847.8,2936.6 1853.0,2952.0C1856.9,2963.5 1862.2,2977.1 1866.9,2980.8C1869.0,2982.5 1871.4,2980.6 1873.4,2982.1C1876.9,2984.8 1878.7,2998.1 1882.5,3000.4C1884.8,3001.8 1887.6,2999.6 1890.3,3000.4C1893.7,3001.4 1897.2,3005.1 1900.8,3006.9C1904.2,3008.6 1908.2,3009.1 1911.2,3010.8C1913.8,3012.3 1914.9,3015.2 1917.7,3016.0C1921.4,3017.1 1927.0,3014.4 1932.1,3014.7C1937.8,3015.0 1944.2,3017.3 1950.3,3018.6C1956.4,3019.9 1963.0,3021.4 1968.6,3022.6C1973.3,3023.6 1978.1,3023.1 1981.6,3025.2C1984.9,3027.2 1987.1,3034.3 1989.4,3034.3C1991.3,3034.3 1992.2,3028.4 1994.6,3027.8C1997.8,3027.0 2003.9,3030.5 2007.7,3033.0C2011.3,3035.4 2014.1,3042.3 2016.8,3042.1C2019.3,3041.9 2020.8,3035.4 2023.3,3033.0C2025.6,3030.8 2028.2,3029.1 2031.1,3027.8C2034.2,3026.4 2038.6,3024.2 2041.6,3025.2C2044.8,3026.2 2046.4,3033.8 2049.4,3034.3C2052.4,3034.8 2056.4,3028.8 2059.8,3027.8C2062.5,3027.0 2064.9,3028.1 2067.7,3027.8C2071.0,3027.4 2074.9,3025.1 2078.1,3025.2C2080.9,3025.3 2083.3,3026.9 2085.9,3027.8" fill="none" stroke="#00FF00" stroke-width="2.00" stroke-linejoin="round" shape-rendering="crispEdges" />
<path d="M227.8,2824.2C229.9,2827.7 231.5,2833.7 234.1,2834.8C236.1,2835.6 239.1,2834.6 241.2,2833.0C244.1,2830.8 246.1,2825.4 248.2,2820.6C250.9,2814.6 252.9,2806.5 255.3,2799.5C257.7,2792.4 259.7,2785.9 262.4,2778.3C265.5,2769.5 269.1,2758.2 273.0,2750.0C276.2,2743.3 279.8,2738.0 283.5,2732.4C287.1,2726.9 292.0,2715.8 294.8,2716.5C298.6,2717.4 298.9,2753.7 300.5,2753.6C302.4,2753.5 300.2,2708.8 304.7,2700.6C306.5,2697.3 309.7,2697.7 311.8,2695.3C314.5,2692.2 317.0,2689.1 318.8,2683.0C322.9,2669.0 321.3,2636.7 322.4,2608.9C323.8,2572.9 324.1,2503.9 325.9,2485.3C326.4,2479.8 327.1,2474.7 327.6,2474.7C329.6,2474.8 329.1,2592.6 330.1,2644.2C330.9,2687.6 328.9,2763.4 333.0,2764.0C334.8,2764.3 337.4,2750.7 340.0,2743.0C343.2,2733.5 347.0,2711.6 350.6,2711.2C352.9,2711.0 355.1,2723.6 357.6,2723.5C360.9,2723.4 365.3,2708.8 368.2,2700.6C371.3,2691.8 373.2,2683.8 375.3,2672.4C378.3,2655.6 380.6,2630.7 382.4,2608.9C384.2,2586.0 384.9,2567.1 385.9,2538.3C387.5,2492.7 388.2,2417.9 389.4,2361.8C390.5,2310.6 391.9,2215.0 392.8,2215.0C393.5,2215.0 394.0,2266.9 394.5,2300.0C395.2,2346.5 395.8,2415.3 396.5,2467.7C397.1,2514.0 390.3,2582.3 398.2,2598.3C400.5,2603.0 404.7,2602.4 407.0,2605.3C409.4,2608.3 410.8,2611.7 412.4,2616.0C414.5,2621.7 415.7,2630.0 417.7,2637.0C419.8,2644.1 421.6,2653.4 424.7,2658.3C426.7,2661.6 429.2,2664.1 431.8,2665.3C434.0,2666.3 436.5,2667.0 438.8,2666.0C442.5,2664.3 445.8,2657.7 449.4,2651.2C455.1,2640.9 462.3,2625.6 467.0,2608.9C473.3,2586.6 475.5,2551.1 480.0,2528.0C483.4,2510.5 486.7,2496.5 490.4,2482.3C493.7,2469.7 497.9,2461.9 500.7,2447.0C505.3,2422.4 506.5,2382.3 509.0,2347.5C511.8,2309.3 514.6,2227.0 516.3,2227.0C517.6,2227.0 518.2,2272.7 519.0,2300.0C520.1,2335.1 520.4,2381.3 522.0,2420.0C523.5,2456.2 526.2,2525.0 528.0,2525.0C529.5,2525.0 527.9,2460.1 532.0,2451.0C533.1,2448.5 534.6,2448.7 536.0,2447.0C538.0,2444.5 540.1,2440.7 542.2,2436.7C544.9,2431.5 548.0,2425.0 550.5,2418.0C553.6,2409.5 555.9,2398.3 558.8,2389.0C561.5,2380.3 563.5,2372.1 567.1,2364.0C570.8,2355.7 578.0,2348.0 581.0,2340.0C583.6,2333.0 583.7,2325.6 585.2,2319.2C586.5,2313.6 587.6,2307.5 589.4,2303.7C590.6,2301.2 591.9,2299.2 593.7,2298.0C595.3,2296.9 597.7,2297.9 599.3,2296.6C601.7,2294.7 603.4,2289.5 605.0,2285.3C606.8,2280.3 607.6,2274.0 609.2,2268.4C610.9,2262.7 613.0,2257.2 614.9,2251.4C616.8,2245.4 618.8,2238.7 620.5,2233.0C622.0,2228.0 623.3,2223.6 624.7,2218.9C626.1,2214.2 627.7,2210.0 629.0,2204.8C630.6,2198.5 631.8,2190.7 633.2,2183.6C634.6,2176.5 636.1,2169.5 637.5,2162.4C638.9,2155.3 640.4,2148.8 641.7,2141.2C643.2,2132.5 644.5,2122.4 645.9,2113.0C647.3,2103.6 648.9,2095.1 650.2,2084.7C651.8,2072.0 653.2,2055.4 654.4,2042.4C655.5,2031.2 656.1,2011.3 657.2,2011.3C658.0,2011.3 659.0,2021.5 660.0,2028.2C661.4,2037.8 663.1,2052.5 664.3,2063.6C665.4,2073.5 665.5,2083.1 667.1,2091.8C668.5,2099.4 671.1,2106.3 672.8,2113.0C674.3,2118.9 675.7,2123.8 677.0,2129.9C678.5,2136.9 679.8,2144.8 681.2,2152.5C682.6,2160.4 684.1,2168.2 685.5,2176.6C687.0,2185.6 688.3,2195.4 689.7,2204.8C691.1,2214.2 692.4,2222.8 693.9,2233.0C695.7,2245.1 697.8,2260.2 700.0,2272.6C701.9,2283.6 703.7,2293.9 706.0,2303.5C708.0,2312.0 710.1,2321.9 712.8,2327.3C714.4,2330.4 716.4,2334.4 717.9,2334.1C720.8,2333.5 722.9,2315.4 724.7,2303.5C727.2,2287.3 727.4,2260.3 729.8,2245.6C731.3,2236.4 733.4,2223.4 735.0,2223.5C737.0,2223.6 738.6,2244.4 740.0,2259.2C742.3,2283.3 743.6,2319.9 745.2,2354.5C747.1,2395.9 748.6,2445.3 750.3,2490.7C752.0,2536.1 753.6,2584.9 755.4,2627.0C757.0,2663.5 758.6,2695.1 760.5,2729.0C762.4,2762.9 764.5,2796.8 766.9,2830.4C769.3,2863.6 771.0,2906.7 774.7,2929.5C776.7,2941.8 778.8,2948.4 781.7,2957.4C784.6,2966.3 788.0,2975.7 792.2,2983.4C796.0,2990.3 799.8,2997.3 805.2,3001.7C810.3,3005.8 817.8,3009.2 823.4,3009.5C828.1,3009.8 833.1,3008.5 836.5,3005.6C840.4,3002.2 842.0,2995.3 844.3,2988.7C847.4,2980.0 849.6,2968.6 852.1,2957.4C854.9,2944.5 856.2,2925.0 860.0,2915.6C862.2,2910.2 865.3,2904.0 867.8,2904.0C870.0,2904.0 872.4,2909.0 874.3,2913.0C877.2,2919.2 878.6,2929.7 880.8,2939.1C883.4,2950.2 885.4,2965.6 888.6,2975.6C890.9,2982.9 893.2,2989.9 896.5,2993.9C898.8,2996.6 901.4,2998.8 904.3,2999.1C907.4,2999.5 911.6,2997.0 914.7,2995.2C917.6,2993.5 920.3,2991.8 922.5,2988.7C925.5,2984.4 927.3,2977.5 929.0,2970.4C931.2,2960.9 931.6,2936.5 933.0,2936.5C935.0,2936.5 933.4,2990.8 939.5,2999.1C941.9,3002.4 945.3,3001.8 948.6,3003.0C952.5,3004.4 957.9,3005.2 961.6,3006.9C964.7,3008.3 965.8,3010.6 969.5,3012.1C976.3,3014.9 991.6,3017.4 1000.8,3018.6C1007.9,3019.5 1012.8,3018.7 1020.0,3019.5C1029.2,3020.5 1044.3,3027.1 1051.3,3024.7C1055.9,3023.1 1058.3,3018.3 1060.7,3014.7C1063.0,3011.3 1063.1,3004.3 1065.6,3003.8C1068.8,3003.2 1074.6,3016.1 1079.5,3016.9C1083.8,3017.6 1088.7,3013.1 1093.0,3010.4C1097.4,3007.6 1102.3,2999.5 1105.5,3000.0C1108.1,3000.4 1108.2,3006.6 1111.3,3009.0C1115.8,3012.4 1126.3,3015.1 1132.1,3015.6C1136.1,3016.0 1139.4,3013.1 1142.6,3014.3C1146.5,3015.8 1148.8,3023.6 1153.0,3026.0C1157.1,3028.3 1164.1,3030.9 1167.3,3028.6C1171.8,3025.4 1168.5,3000.6 1171.2,3000.0C1173.1,2999.6 1174.9,3009.5 1179.0,3011.7C1184.3,3014.5 1194.5,3012.7 1202.5,3011.7C1211.0,3010.6 1220.1,3008.3 1228.6,3005.1C1237.5,3001.8 1248.1,2996.2 1254.7,2992.1C1259.1,2989.4 1262.2,2984.3 1265.1,2984.3C1267.1,2984.3 1268.7,2988.7 1270.3,2988.2C1273.4,2987.3 1275.6,2965.9 1278.1,2966.0C1280.8,2966.1 1282.7,2985.6 1286.0,2992.1C1288.3,2996.6 1291.0,3002.0 1293.8,3002.5C1296.2,3002.9 1298.3,2998.7 1301.6,2997.3C1306.3,2995.3 1313.2,2993.6 1319.9,2993.4C1327.8,2993.2 1336.3,2996.7 1345.9,2997.3C1357.6,2998.0 1375.2,2997.2 1385.1,2996.0C1391.3,2995.2 1394.6,2995.1 1400.0,2992.8C1407.8,2989.4 1417.4,2980.5 1426.1,2974.6C1434.8,2968.8 1444.9,2961.8 1452.2,2957.6C1457.2,2954.7 1460.5,2954.0 1465.2,2951.1C1471.5,2947.2 1479.1,2941.5 1486.0,2935.5C1493.8,2928.7 1502.3,2920.8 1509.5,2912.0C1517.2,2902.6 1523.8,2892.1 1530.4,2880.7C1537.8,2868.0 1543.7,2852.2 1551.2,2839.0C1558.5,2826.2 1566.6,2809.7 1574.7,2802.5C1579.8,2797.9 1585.1,2797.9 1590.4,2794.7C1596.4,2791.1 1602.8,2786.1 1608.6,2781.6C1614.1,2777.3 1619.8,2773.2 1624.3,2768.6C1628.4,2764.4 1631.4,2761.2 1634.7,2755.5C1639.5,2747.1 1643.4,2732.9 1647.7,2721.6C1652.1,2710.3 1656.4,2698.7 1660.8,2687.7C1665.1,2677.1 1668.5,2664.8 1673.8,2656.5C1678.0,2649.9 1683.4,2641.2 1688.1,2640.8C1692.1,2640.5 1696.2,2645.7 1699.9,2649.9C1704.7,2655.4 1708.6,2665.8 1712.9,2672.1C1716.4,2677.2 1719.4,2682.4 1723.3,2685.1C1726.5,2687.3 1730.3,2689.0 1733.8,2688.3C1738.1,2687.4 1742.9,2682.6 1746.8,2677.3C1752.7,2669.3 1756.7,2654.2 1761.9,2642.0C1767.6,2628.8 1774.2,2612.7 1779.6,2600.7C1783.8,2591.3 1787.9,2581.6 1791.4,2575.7C1793.5,2572.2 1795.2,2567.6 1797.3,2567.7C1800.1,2567.9 1803.9,2576.2 1806.2,2583.0C1810.0,2594.2 1810.2,2613.6 1812.1,2630.2C1814.2,2648.8 1815.8,2667.5 1818.0,2689.2C1820.6,2715.7 1823.7,2749.6 1826.8,2777.7C1829.6,2803.4 1832.0,2828.3 1835.7,2851.5C1839.0,2872.3 1843.3,2891.5 1847.5,2910.5C1851.4,2928.3 1853.9,2946.8 1860.0,2962.0C1865.4,2975.5 1872.9,2988.6 1881.0,2998.0C1887.7,3005.8 1895.2,3011.9 1903.4,3016.0C1911.4,3020.0 1920.8,3020.8 1929.5,3022.6C1938.1,3024.3 1946.5,3024.5 1955.5,3026.5C1965.5,3028.7 1977.3,3034.3 1986.8,3035.6C1994.4,3036.7 2001.7,3034.2 2007.7,3035.6C2012.7,3036.8 2016.2,3041.3 2020.7,3042.1C2024.9,3042.9 2029.3,3040.6 2033.8,3040.8C2038.8,3041.0 2044.2,3043.2 2049.4,3043.4C2054.6,3043.6 2059.4,3042.5 2065.0,3042.1C2071.5,3041.6 2078.9,3041.2 2085.9,3040.8" fill="none" stroke="#008000" stroke-width="2.00" stroke-linejoin="round" shape-rendering="crispEdges" />
<path d="M227.8,2848.9C230.5,2857.1 233.2,2873.4 235.9,2873.6C237.7,2873.7 239.5,2867.4 241.2,2863.0C243.7,2856.6 246.0,2847.3 248.2,2838.3C250.8,2827.6 252.6,2815.5 255.3,2803.0C258.4,2788.7 261.5,2769.3 265.9,2757.1C269.0,2748.5 272.7,2742.1 276.5,2735.9C279.8,2730.6 283.7,2725.6 287.0,2721.8C289.5,2718.9 292.0,2714.3 294.1,2714.7C296.7,2715.2 298.7,2729.2 300.5,2728.9C303.7,2728.4 302.9,2691.6 306.5,2679.5C308.8,2671.9 312.9,2667.8 315.3,2661.8C317.6,2656.0 319.2,2652.1 320.6,2644.2C323.3,2628.6 322.9,2593.1 324.1,2573.6C324.9,2559.8 325.8,2538.3 326.6,2538.3C327.9,2538.3 329.1,2595.1 330.1,2626.5C331.3,2662.6 329.6,2742.6 333.0,2743.0C334.7,2743.2 337.0,2723.3 340.0,2714.7C342.7,2707.0 346.8,2693.5 349.9,2693.5C352.7,2693.5 354.7,2711.1 357.6,2711.2C360.8,2711.3 365.3,2698.7 368.2,2690.0C372.3,2677.9 374.7,2661.2 377.0,2644.2C379.8,2623.3 380.8,2601.2 382.4,2573.6C384.6,2534.6 386.3,2484.2 387.7,2432.4C389.4,2368.9 390.1,2254.3 391.2,2220.6C391.5,2210.0 391.9,2199.8 392.2,2199.8C392.8,2199.8 393.4,2235.9 394.0,2260.0C394.9,2296.4 395.4,2354.3 396.5,2397.0C397.5,2434.6 397.0,2477.2 400.0,2503.0C401.7,2518.0 404.8,2525.3 407.0,2538.3C409.6,2554.1 411.5,2573.0 414.1,2591.2C416.8,2610.6 419.1,2635.7 423.0,2651.2C425.5,2661.4 427.8,2673.1 431.8,2675.9C433.9,2677.3 436.5,2677.4 438.8,2675.9C443.9,2672.6 448.6,2655.7 453.0,2644.2C458.0,2631.2 462.7,2617.1 467.0,2601.8C471.9,2584.3 476.2,2564.9 480.0,2544.6C484.2,2521.9 486.3,2492.8 490.4,2472.0C493.5,2456.2 497.7,2447.6 500.7,2430.5C505.3,2403.8 508.3,2356.6 511.1,2326.7C513.2,2304.0 515.0,2266.6 516.3,2266.6C518.1,2266.7 518.1,2341.7 519.0,2380.0C519.9,2419.4 520.6,2463.8 521.5,2500.0C522.3,2529.9 522.9,2582.0 524.0,2582.0C525.1,2582.0 526.2,2526.2 528.0,2500.0C529.6,2475.9 530.4,2444.9 534.0,2430.5C535.7,2423.7 537.8,2418.5 540.2,2416.0C541.5,2414.6 543.0,2413.8 544.3,2413.9C545.7,2414.0 547.1,2417.4 548.5,2417.0C551.4,2416.1 554.2,2402.9 556.8,2395.2C559.7,2386.7 561.8,2375.7 565.0,2368.2C567.5,2362.5 571.2,2358.6 573.4,2353.7C575.5,2349.2 576.8,2344.7 578.1,2340.0C579.4,2335.1 580.0,2329.9 581.0,2324.9C581.9,2320.1 582.6,2315.3 583.8,2310.7C585.0,2306.3 586.4,2301.5 588.0,2298.0C589.3,2295.2 590.7,2292.7 592.3,2291.0C593.6,2289.6 595.2,2289.4 596.5,2288.1C598.0,2286.6 599.4,2284.8 600.7,2282.5C602.4,2279.5 603.5,2275.4 605.0,2271.2C606.8,2266.1 608.8,2260.2 610.6,2254.2C612.6,2247.5 614.2,2239.3 616.3,2233.0C618.0,2227.8 620.2,2223.6 621.9,2218.9C623.5,2214.2 624.8,2209.5 626.2,2204.8C627.6,2200.1 629.0,2195.4 630.4,2190.7C631.8,2186.0 633.3,2181.8 634.6,2176.6C636.2,2170.3 637.7,2162.5 638.9,2155.4C640.1,2148.4 640.7,2141.0 641.7,2134.2C642.6,2127.8 643.8,2122.8 644.5,2115.8C645.4,2106.8 645.3,2095.9 645.9,2084.7C646.6,2071.6 647.6,2053.7 648.8,2042.0C649.6,2033.8 650.5,2027.1 651.6,2021.0C652.4,2016.3 653.2,2008.6 654.4,2008.5C655.2,2008.4 656.4,2011.4 657.2,2014.1C658.9,2019.8 659.0,2033.0 660.0,2042.4C660.9,2051.8 662.0,2060.2 662.9,2070.6C664.0,2083.3 664.5,2098.9 665.7,2113.0C666.9,2127.1 668.1,2143.7 669.9,2155.4C671.2,2163.7 672.7,2169.0 674.2,2176.6C676.0,2185.3 677.9,2195.4 679.8,2204.8C681.7,2214.2 683.6,2223.6 685.5,2233.0C687.4,2242.4 689.4,2251.9 691.1,2261.3C692.7,2270.7 693.9,2280.1 695.4,2289.5C696.9,2298.9 698.4,2309.2 700.0,2317.8C701.4,2325.0 702.4,2330.4 704.3,2337.5C706.5,2345.9 710.1,2358.0 712.8,2364.8C714.5,2369.1 716.4,2375.2 717.9,2375.0C720.7,2374.6 722.8,2351.0 724.7,2337.5C726.9,2321.8 727.4,2297.9 729.8,2286.4C731.1,2280.3 733.0,2272.7 734.3,2272.8C736.2,2273.0 737.1,2290.7 738.3,2303.5C740.3,2324.8 741.9,2358.9 743.5,2388.6C745.3,2421.1 747.0,2454.2 748.6,2490.7C750.4,2532.9 751.9,2583.1 753.7,2627.0C755.3,2668.0 756.6,2713.4 758.8,2746.0C760.4,2768.9 762.4,2782.7 764.3,2804.3C766.7,2831.3 768.8,2870.7 772.1,2895.6C774.4,2913.1 776.0,2926.6 779.9,2939.9C783.3,2951.4 787.5,2962.5 792.9,2971.2C797.4,2978.5 802.8,2985.2 808.6,2989.4C813.4,2992.9 819.3,2996.2 824.2,2996.0C828.8,2995.8 833.7,2993.4 837.3,2989.4C842.4,2983.6 844.9,2972.5 847.7,2960.8C851.8,2943.7 853.0,2916.1 855.5,2895.6C857.7,2877.2 858.1,2856.9 862.0,2843.4C864.7,2834.2 869.3,2821.2 872.5,2821.3C875.8,2821.5 879.0,2836.9 881.6,2846.0C884.8,2856.9 887.0,2869.2 889.4,2882.5C892.3,2898.3 894.7,2918.0 897.2,2934.7C899.5,2950.1 899.4,2972.4 903.8,2979.0C905.6,2981.7 907.8,2982.5 910.3,2983.0C913.3,2983.6 917.8,2983.3 920.7,2981.6C924.0,2979.7 926.5,2976.2 928.5,2971.2C932.0,2962.5 931.5,2931.3 933.0,2931.3C934.7,2931.3 932.9,2976.4 938.2,2986.0C940.8,2990.7 944.7,2991.9 948.6,2993.9C952.5,2995.9 958.0,2995.9 961.6,2997.8C964.8,2999.5 965.7,3002.5 969.5,3004.3C976.2,3007.5 991.6,3009.3 1000.8,3010.8C1007.9,3011.9 1012.8,3012.0 1020.0,3013.0C1029.2,3014.3 1043.7,3022.0 1051.3,3018.2C1058.8,3014.5 1060.7,2991.0 1065.6,2990.8C1070.1,2990.6 1074.3,3012.1 1079.5,3013.0C1083.7,3013.7 1088.8,3006.6 1093.0,3002.5C1097.5,2998.0 1102.4,2986.5 1105.5,2986.9C1108.2,2987.2 1108.2,2998.3 1111.3,2999.9C1114.2,3001.4 1119.7,2996.1 1123.0,2997.3C1126.7,2998.6 1128.5,3007.5 1132.1,3009.0C1135.2,3010.3 1139.6,3006.1 1142.6,3007.7C1147.1,3010.1 1148.1,3024.9 1153.0,3028.6C1156.9,3031.5 1163.9,3033.8 1167.3,3031.2C1173.9,3026.1 1168.8,2976.9 1171.8,2976.5C1173.6,2976.2 1175.7,2994.5 1179.0,2996.0C1180.9,2996.9 1183.5,2993.0 1185.6,2993.4C1187.9,2993.9 1188.6,2998.6 1192.1,2999.9C1199.0,3002.5 1217.8,3000.7 1228.6,2997.3C1238.4,2994.2 1248.2,2986.8 1254.7,2981.7C1259.2,2978.1 1262.5,2970.7 1265.1,2971.2C1267.6,2971.7 1268.6,2984.4 1270.3,2984.3C1272.5,2984.2 1275.1,2962.0 1276.8,2962.1C1278.6,2962.2 1279.8,2978.7 1280.8,2986.9C1281.8,2994.8 1281.9,3010.4 1282.8,3010.4C1283.7,3010.4 1282.5,2991.3 1286.0,2989.5C1289.2,2987.9 1296.2,2997.1 1301.6,2997.3C1307.4,2997.5 1312.5,2991.0 1319.9,2989.5C1330.3,2987.4 1347.3,2988.9 1359.0,2989.5C1368.6,2990.0 1377.6,2992.5 1385.1,2992.1C1390.8,2991.8 1394.6,2991.2 1400.0,2988.9C1407.8,2985.7 1416.8,2978.0 1426.1,2972.0C1436.7,2965.1 1449.3,2956.2 1460.0,2949.8C1469.1,2944.3 1477.9,2941.3 1486.0,2935.5C1494.4,2929.6 1502.3,2922.6 1509.5,2914.6C1517.2,2906.1 1523.9,2896.7 1530.4,2885.9C1537.9,2873.6 1543.0,2858.1 1551.2,2844.2C1560.1,2829.0 1572.5,2805.0 1582.5,2798.6C1587.9,2795.2 1592.9,2798.8 1598.2,2796.0C1605.9,2791.9 1614.9,2778.1 1621.6,2771.2C1626.6,2766.1 1630.9,2764.0 1634.7,2758.1C1640.1,2749.8 1643.4,2735.6 1647.7,2724.3C1652.1,2713.0 1656.4,2701.4 1660.8,2690.4C1665.1,2679.7 1668.8,2667.5 1673.8,2659.1C1677.7,2652.6 1682.2,2643.9 1686.8,2643.4C1691.0,2643.0 1696.0,2649.1 1699.9,2653.8C1704.9,2659.7 1708.5,2670.8 1712.9,2677.3C1716.3,2682.5 1719.3,2687.9 1723.3,2690.4C1726.5,2692.4 1730.3,2693.8 1733.8,2693.0C1738.1,2692.0 1742.8,2687.5 1746.8,2682.5C1752.6,2675.2 1756.8,2662.2 1761.9,2650.9C1767.7,2638.1 1773.4,2622.3 1779.6,2609.6C1785.2,2598.1 1792.5,2577.6 1797.3,2577.7C1800.8,2577.7 1803.9,2587.3 1806.2,2594.8C1809.9,2606.9 1810.3,2626.6 1812.1,2645.0C1814.3,2667.2 1815.7,2693.0 1818.0,2718.7C1820.5,2746.9 1823.4,2777.7 1826.8,2807.2C1830.2,2836.7 1833.5,2869.7 1838.6,2895.7C1842.7,2916.7 1847.4,2935.1 1853.4,2951.8C1858.5,2966.0 1864.6,2979.2 1871.1,2990.1C1876.6,2999.2 1882.8,3007.5 1888.8,3013.7C1893.6,3018.6 1897.5,3022.3 1903.4,3025.2C1910.5,3028.7 1920.8,3030.2 1929.5,3031.7C1938.1,3033.2 1946.8,3033.4 1955.5,3034.3C1964.2,3035.2 1972.9,3036.0 1981.6,3036.9C1990.3,3037.8 2001.1,3037.6 2007.7,3039.5C2012.1,3040.8 2014.2,3044.3 2018.1,3044.7C2022.7,3045.2 2028.6,3040.8 2033.8,3040.8C2039.0,3040.8 2043.5,3044.3 2049.4,3044.7C2056.9,3045.3 2068.8,3042.9 2075.5,3042.1C2079.8,3041.6 2082.4,3041.2 2085.9,3040.8" fill="none" stroke="#FF80FF" stroke-width="2.00" stroke-linejoin="round" shape-rendering="crispEdges" />
<path d="M227.8,2838.3C229.9,2847.7 230.8,2865.5 234.1,2866.5C236.0,2867.1 239.2,2863.0 241.2,2859.5C244.6,2853.5 246.0,2841.2 248.2,2831.2C250.7,2820.1 252.6,2808.4 255.3,2795.9C258.4,2781.6 261.6,2764.5 265.9,2750.0C269.9,2736.4 274.5,2722.2 280.0,2711.2C284.4,2702.3 291.4,2687.7 294.8,2688.3C298.0,2688.8 298.8,2711.3 300.5,2711.2C302.8,2711.1 302.5,2678.0 306.5,2668.9C308.8,2663.7 313.0,2662.3 315.3,2658.3C317.7,2654.1 319.2,2651.3 320.6,2644.2C324.3,2625.5 323.0,2570.0 324.1,2538.3C325.0,2512.4 325.8,2467.7 326.6,2467.7C327.9,2467.7 328.8,2595.5 330.1,2644.2C331.0,2678.7 329.2,2731.8 333.0,2732.4C335.1,2732.7 338.8,2715.6 341.8,2707.7C344.6,2700.3 347.1,2692.7 350.6,2686.5C353.7,2681.1 357.7,2678.1 361.2,2672.4C365.9,2664.8 371.9,2655.4 375.3,2644.2C379.8,2629.6 380.5,2612.6 382.4,2591.2C385.3,2558.7 386.3,2515.6 387.7,2467.7C389.6,2401.3 389.6,2268.1 391.2,2230.0C391.7,2217.9 392.3,2206.2 392.8,2206.2C393.5,2206.2 394.0,2237.9 394.5,2260.0C395.2,2295.2 395.2,2348.4 395.8,2397.0C396.4,2452.1 396.7,2528.4 398.2,2573.6C399.1,2601.9 396.6,2637.5 401.8,2642.4C403.2,2643.8 405.2,2643.0 407.0,2642.4C409.3,2641.6 411.7,2637.0 414.1,2637.0C416.5,2637.0 418.5,2641.5 421.2,2642.4C423.8,2643.3 427.3,2643.5 430.0,2642.4C433.2,2641.1 435.9,2637.8 438.8,2633.6C443.6,2626.6 448.6,2613.3 453.0,2601.8C458.0,2588.8 462.7,2574.5 467.0,2559.4C471.8,2542.5 475.8,2521.6 480.0,2505.0C483.6,2490.8 487.2,2480.0 490.4,2465.7C494.2,2448.7 497.8,2430.3 500.7,2409.7C504.2,2384.8 506.8,2355.9 509.0,2326.7C511.4,2294.1 512.7,2252.0 514.2,2223.0C515.2,2202.1 516.2,2169.0 516.9,2169.0C518.0,2169.0 518.2,2252.9 519.0,2300.0C519.9,2355.2 521.1,2428.5 522.0,2480.0C522.7,2518.8 523.1,2582.0 524.0,2582.0C524.8,2582.0 525.2,2525.8 527.0,2500.0C528.7,2476.9 531.6,2454.4 534.0,2434.6C536.0,2418.0 538.1,2403.8 540.2,2389.0C542.2,2374.8 543.3,2355.6 546.4,2347.5C547.8,2343.8 549.9,2343.5 551.3,2340.0C553.9,2333.6 554.8,2319.6 556.9,2310.7C558.7,2303.0 560.7,2296.6 562.6,2289.5C564.5,2282.5 566.3,2275.4 568.2,2268.4C570.1,2261.3 572.0,2254.3 573.9,2247.2C575.8,2240.1 577.6,2233.1 579.5,2226.0C581.4,2218.9 583.2,2211.4 585.2,2204.8C587.0,2198.8 588.8,2193.3 590.8,2187.9C592.6,2182.9 594.6,2178.6 596.5,2173.7C598.4,2168.7 600.0,2163.3 602.1,2158.2C604.2,2153.0 607.0,2147.6 609.2,2142.7C611.2,2138.2 613.0,2134.2 614.9,2129.9C616.8,2125.7 618.5,2121.6 620.5,2117.2C622.7,2112.3 625.5,2107.0 627.6,2101.7C629.7,2096.2 631.3,2090.4 633.2,2084.7C635.1,2079.1 637.0,2073.3 638.9,2067.8C640.7,2062.5 642.9,2057.6 644.5,2052.3C646.2,2046.8 647.4,2041.1 648.8,2035.3C650.2,2029.3 651.0,2021.9 653.0,2017.0C654.5,2013.3 656.5,2008.1 658.6,2007.8C660.3,2007.5 662.6,2010.4 664.3,2012.7C666.6,2015.8 668.4,2020.8 670.0,2025.4C671.8,2030.6 672.8,2036.7 674.2,2042.4C675.6,2048.0 677.0,2053.4 678.4,2059.3C679.9,2065.6 681.3,2072.3 682.7,2079.1C684.2,2086.4 685.5,2093.9 686.9,2101.7C688.3,2109.9 689.7,2118.6 691.1,2127.1C692.5,2135.6 694.0,2143.3 695.4,2152.5C697.0,2163.3 698.2,2176.6 700.0,2187.9C701.7,2198.5 703.9,2208.2 706.0,2218.4C708.1,2228.6 710.0,2242.1 712.8,2249.0C714.3,2252.9 716.4,2257.8 717.9,2257.5C720.7,2257.0 722.9,2237.6 724.7,2225.2C727.1,2208.8 727.6,2181.6 729.8,2167.3C731.1,2158.7 732.9,2146.8 734.3,2146.8C735.8,2146.8 737.1,2159.7 738.3,2170.7C740.8,2194.8 741.9,2244.1 743.5,2286.4C745.4,2337.7 746.9,2399.9 748.6,2456.7C750.3,2513.5 751.7,2577.5 753.7,2627.0C755.2,2665.3 756.9,2698.1 758.8,2729.0C760.4,2754.8 762.3,2781.3 763.9,2800.0C764.9,2812.3 765.7,2817.5 766.9,2830.4C768.9,2852.6 770.7,2900.6 774.7,2921.6C776.9,2933.1 779.6,2938.6 782.5,2947.7C785.6,2957.7 787.8,2970.0 792.9,2979.0C797.6,2987.2 804.8,2996.2 811.2,3000.0C815.9,3002.8 820.8,3002.7 826.0,3003.0C831.8,3003.4 838.8,3004.2 844.3,3001.7C850.3,2999.0 855.0,2989.6 860.0,2986.0C863.6,2983.4 866.9,2981.2 870.4,2980.8C873.8,2980.4 877.4,2982.3 880.8,2983.4C884.3,2984.5 887.7,2986.7 891.2,2987.4C894.6,2988.0 898.3,2988.0 901.7,2987.4C905.2,2986.7 908.8,2985.2 912.1,2983.4C915.7,2981.4 919.8,2979.4 922.5,2975.6C926.0,2970.7 927.3,2963.4 929.0,2954.8C931.6,2941.4 931.6,2902.6 933.0,2902.6C934.7,2902.6 932.2,2965.0 938.2,2978.2C940.8,2984.0 944.6,2986.1 948.6,2988.7C952.5,2991.3 958.0,2991.5 961.6,2993.9C964.8,2996.0 965.6,2999.5 969.5,3001.7C976.2,3005.5 991.6,3007.8 1000.8,3009.5C1007.9,3010.8 1013.1,3010.8 1020.0,3011.7C1028.0,3012.8 1040.3,3013.6 1046.0,3015.6C1049.1,3016.7 1050.6,3020.1 1052.6,3019.5C1055.7,3018.5 1058.3,3008.8 1060.4,3002.5C1062.8,2995.2 1063.3,2978.1 1065.6,2977.8C1067.4,2977.6 1069.9,2987.2 1072.2,2992.1C1074.6,2997.2 1077.3,3007.6 1079.5,3007.7C1081.1,3007.8 1081.7,3001.7 1083.9,3000.0C1086.2,2998.2 1090.7,2999.4 1093.0,2997.3C1095.8,2994.7 1096.1,2988.4 1098.2,2984.3C1100.3,2980.2 1103.4,2972.3 1105.5,2972.5C1107.9,2972.8 1107.8,2987.5 1111.3,2989.5C1114.2,2991.1 1119.9,2985.3 1123.0,2986.9C1127.0,2988.9 1127.3,3003.9 1130.8,3005.1C1133.4,3006.0 1137.4,3000.1 1140.0,3000.0C1142.0,2999.9 1143.6,3000.6 1145.2,3002.5C1148.7,3006.7 1149.7,3030.5 1153.0,3031.2C1154.9,3031.6 1157.3,3023.3 1159.5,3023.4C1162.1,3023.5 1165.3,3035.6 1167.3,3035.1C1171.4,3034.0 1168.3,2974.3 1171.2,2973.8C1172.6,2973.6 1175.1,2983.3 1176.5,2986.9C1177.5,2989.4 1177.7,2993.1 1179.0,2993.4C1180.5,2993.7 1183.4,2986.9 1185.6,2986.9C1187.8,2986.9 1188.9,2992.2 1192.1,2993.4C1197.2,2995.4 1209.3,2992.7 1215.6,2992.1C1219.8,2991.7 1222.5,2992.4 1226.0,2990.8C1231.0,2988.5 1236.6,2980.8 1241.6,2976.5C1246.1,2972.6 1251.0,2970.5 1254.7,2966.0C1259.0,2960.8 1262.4,2946.3 1265.1,2946.5C1267.4,2946.7 1268.5,2962.1 1270.3,2962.1C1272.3,2962.1 1275.1,2942.5 1276.8,2942.6C1278.6,2942.7 1278.6,2960.4 1280.8,2966.0C1282.2,2969.5 1283.5,2972.0 1286.0,2973.8C1288.6,2975.7 1293.8,2974.6 1296.4,2976.5C1298.9,2978.3 1298.8,2983.3 1301.6,2984.3C1305.6,2985.8 1313.2,2979.8 1319.9,2979.0C1327.7,2978.1 1337.5,2980.6 1345.9,2980.4C1353.9,2980.2 1362.4,2977.3 1369.4,2977.8C1375.2,2978.2 1380.0,2981.8 1385.1,2981.7C1390.1,2981.6 1394.7,2980.1 1400.0,2977.2C1407.9,2972.9 1417.5,2962.7 1426.1,2955.0C1434.9,2947.1 1444.5,2934.2 1452.2,2930.2C1456.9,2927.8 1460.7,2929.8 1465.2,2927.6C1471.7,2924.4 1479.1,2916.2 1486.0,2909.4C1493.8,2901.7 1502.7,2892.0 1509.5,2883.3C1515.6,2875.5 1520.6,2868.6 1525.2,2859.8C1530.4,2849.8 1533.8,2837.0 1538.2,2826.0C1542.5,2815.3 1546.4,2804.8 1551.2,2794.7C1555.9,2784.8 1561.9,2775.1 1566.9,2766.0C1571.4,2757.8 1574.5,2746.5 1579.9,2742.5C1583.7,2739.7 1588.6,2741.7 1593.0,2739.9C1598.2,2737.8 1603.9,2733.7 1608.6,2729.5C1613.5,2725.1 1617.6,2720.0 1621.6,2713.8C1626.4,2706.4 1630.7,2697.6 1634.7,2687.7C1639.6,2675.6 1643.5,2660.3 1647.7,2646.0C1652.2,2630.9 1656.3,2614.0 1660.8,2599.1C1665.0,2585.4 1668.5,2570.7 1673.8,2560.0C1678.0,2551.6 1683.0,2539.7 1688.1,2539.1C1692.6,2538.6 1698.5,2546.9 1702.5,2552.2C1706.9,2558.0 1709.7,2566.4 1712.9,2573.0C1715.7,2578.9 1716.9,2585.9 1720.7,2590.0C1724.1,2593.6 1729.6,2597.4 1733.8,2597.0C1738.3,2596.5 1743.0,2591.2 1746.8,2586.0C1752.0,2578.9 1755.1,2566.4 1759.0,2556.0C1763.1,2544.9 1766.9,2532.8 1770.8,2521.1C1774.7,2509.3 1778.8,2495.9 1782.6,2485.7C1785.6,2477.8 1788.5,2469.8 1791.4,2465.0C1793.2,2462.1 1795.0,2458.5 1796.8,2458.6C1798.9,2458.7 1801.4,2463.5 1803.2,2468.0C1806.4,2476.2 1807.4,2492.6 1809.1,2506.3C1811.0,2521.9 1812.2,2539.1 1813.6,2556.5C1815.1,2575.4 1816.5,2593.8 1818.0,2615.5C1819.9,2642.0 1821.9,2674.5 1823.9,2704.0C1825.9,2733.5 1827.6,2766.0 1829.8,2792.5C1831.6,2814.2 1833.6,2833.3 1835.7,2851.5C1837.5,2867.3 1839.2,2881.0 1841.6,2895.7C1844.1,2910.5 1846.7,2926.2 1850.4,2940.0C1853.7,2952.6 1857.5,2964.7 1862.2,2975.4C1866.5,2985.1 1870.2,2994.7 1877.0,3001.9C1883.9,3009.2 1894.4,3014.2 1903.4,3018.6C1911.9,3022.7 1920.7,3026.1 1929.5,3027.8C1938.1,3029.5 1946.8,3028.2 1955.5,3029.1C1964.2,3030.0 1974.2,3030.4 1981.6,3033.0C1987.7,3035.1 1991.9,3041.1 1997.3,3042.1C2002.3,3043.0 2009.3,3038.3 2012.9,3039.5C2015.4,3040.3 2015.6,3043.9 2018.1,3044.7C2021.7,3045.9 2028.6,3041.7 2033.8,3042.1C2039.1,3042.5 2044.8,3047.6 2049.4,3047.3C2053.3,3047.0 2056.1,3043.6 2059.8,3042.1C2063.9,3040.5 2068.5,3039.5 2072.9,3038.2C2077.2,3036.9 2081.6,3035.6 2085.9,3034.3" fill="none" stroke="#7F00FF" stroke-width="2.00" stroke-linejoin="round" shape-rendering="crispEdges" />
<path d="M227.8,2855.9C229.3,2867.7 230.5,2881.5 232.4,2891.2C233.8,2898.2 235.5,2908.9 237.0,2908.9C238.5,2908.9 240.1,2898.7 241.2,2891.2C243.1,2878.3 243.1,2857.2 244.7,2838.3C246.5,2816.4 249.7,2791.2 251.8,2767.7C253.9,2744.2 255.3,2720.6 257.1,2697.1C258.9,2673.6 260.6,2650.0 262.4,2626.5C264.1,2603.0 265.4,2575.4 267.6,2555.9C269.1,2542.1 271.0,2531.3 272.9,2520.6C274.5,2511.6 275.2,2501.4 278.2,2495.9C280.1,2492.4 283.2,2492.1 285.3,2488.8C288.4,2483.9 290.5,2475.7 292.4,2467.7C294.8,2457.5 296.0,2445.4 297.6,2432.4C299.6,2416.5 300.9,2392.3 302.9,2379.4C304.0,2371.9 305.0,2361.9 306.5,2361.8C308.0,2361.7 310.3,2371.9 311.8,2379.4C314.3,2392.2 315.3,2413.5 317.0,2432.4C318.9,2454.2 320.5,2481.2 322.4,2503.0C324.1,2521.9 325.0,2555.6 327.6,2555.9C329.1,2556.1 331.5,2545.8 333.0,2538.3C335.6,2525.5 336.3,2501.6 338.2,2485.3C339.8,2471.3 341.6,2446.6 343.5,2446.5C344.9,2446.5 346.6,2458.5 347.8,2467.7C350.0,2484.3 350.6,2516.5 352.4,2538.3C353.9,2557.2 355.6,2591.1 357.6,2591.2C359.2,2591.2 361.5,2570.4 363.0,2555.9C365.4,2533.2 366.5,2498.4 368.2,2467.7C370.0,2434.0 371.8,2392.5 373.5,2361.8C374.8,2338.1 376.5,2320.1 377.4,2299.0C378.3,2277.7 378.2,2256.0 378.7,2234.5C379.2,2213.0 380.0,2193.3 380.6,2170.0C381.3,2142.5 381.3,2105.6 382.5,2080.0C383.4,2060.9 384.5,2043.4 386.0,2030.0C387.0,2021.0 388.4,2007.4 389.6,2007.4C391.2,2007.4 393.0,2032.6 394.1,2048.0C395.6,2068.3 395.8,2095.7 396.7,2118.7C397.5,2140.6 398.4,2160.6 399.3,2183.0C400.3,2207.6 401.7,2238.9 402.5,2260.3C403.1,2275.4 403.3,2283.2 403.8,2299.0C404.6,2324.2 406.0,2361.4 407.0,2397.0C408.2,2439.8 409.3,2494.6 410.6,2538.3C411.7,2576.1 412.8,2606.4 414.1,2644.2C415.6,2687.9 417.1,2741.7 419.4,2785.3C421.4,2823.1 422.5,2865.5 426.5,2891.2C428.9,2906.3 430.8,2925.2 435.3,2926.5C438.2,2927.3 442.7,2919.2 445.9,2916.0C448.5,2913.4 451.0,2913.0 453.0,2908.9C458.2,2897.9 457.5,2860.1 460.0,2838.3C462.2,2819.3 464.9,2806.0 467.0,2785.3C469.9,2756.1 471.4,2711.2 474.1,2679.5C476.3,2653.6 479.3,2626.0 481.2,2608.9C482.3,2599.2 483.2,2595.5 484.1,2586.0C485.6,2570.7 485.9,2538.4 488.3,2525.9C489.4,2520.1 491.1,2513.3 492.4,2513.4C494.0,2513.5 495.3,2526.5 496.6,2534.2C498.2,2543.5 498.7,2565.1 500.7,2565.3C502.1,2565.4 504.1,2549.7 505.9,2549.7C507.6,2549.7 509.7,2558.4 511.1,2563.2C512.6,2568.4 512.9,2579.8 514.2,2579.8C515.8,2579.9 519.0,2565.2 520.5,2555.0C522.9,2539.0 522.2,2511.3 523.6,2492.7C524.7,2477.5 524.0,2454.5 527.7,2451.2C528.9,2450.1 530.7,2450.2 531.9,2451.2C535.1,2454.0 534.9,2471.2 536.0,2482.3C537.3,2495.1 538.1,2509.2 539.1,2523.8C540.2,2540.1 541.3,2559.4 542.2,2575.7C543.0,2590.3 543.5,2602.1 544.3,2617.2C545.3,2635.5 545.6,2662.5 547.7,2678.0C549.0,2687.8 549.6,2700.3 552.8,2701.8C554.6,2702.7 557.8,2697.7 559.6,2698.4C562.1,2699.4 563.1,2706.2 564.7,2712.0C567.3,2721.8 568.9,2741.5 571.3,2752.2C572.9,2759.5 574.6,2770.3 576.5,2770.4C578.5,2770.5 580.9,2752.2 583.0,2752.2C585.2,2752.2 588.0,2765.3 589.5,2773.0C591.3,2782.3 591.4,2793.3 592.2,2804.3C593.1,2816.6 593.7,2830.4 594.8,2843.4C595.9,2856.4 597.1,2870.2 598.7,2882.5C600.2,2893.5 599.5,2909.0 603.9,2913.8C606.5,2916.6 611.6,2914.1 614.3,2916.4C617.7,2919.3 617.7,2930.6 620.8,2932.0C623.0,2933.0 626.8,2931.8 628.7,2929.5C632.2,2925.4 631.4,2913.4 632.6,2903.4C634.1,2890.1 635.2,2872.6 636.5,2856.5C637.8,2839.6 639.3,2826.0 640.4,2804.3C642.3,2768.4 643.7,2704.7 644.7,2661.0C645.6,2624.1 645.6,2595.3 646.4,2558.8C647.3,2516.7 648.7,2452.8 649.8,2422.6C650.4,2407.5 650.7,2398.5 651.5,2388.6C652.1,2380.9 653.2,2368.2 653.9,2368.2C655.0,2368.2 655.9,2401.6 656.6,2422.6C657.6,2451.3 657.8,2488.3 658.3,2524.8C658.9,2566.9 659.2,2618.9 660.0,2661.0C660.7,2697.5 661.6,2737.7 662.8,2763.2C663.5,2778.5 664.5,2785.3 665.2,2800.0C666.3,2822.0 666.9,2855.4 667.8,2882.5C668.7,2908.9 669.6,2941.7 670.4,2960.8C670.9,2971.8 669.7,2986.3 671.7,2986.8C672.9,2987.1 675.4,2982.6 676.9,2979.0C679.5,2972.6 678.8,2956.6 682.1,2950.3C684.1,2946.4 687.4,2944.8 690.0,2942.5C692.2,2940.5 694.7,2939.9 696.5,2937.3C699.0,2933.7 700.1,2927.5 701.7,2921.6C703.7,2914.1 705.1,2904.0 706.9,2895.6C708.6,2887.6 709.5,2872.9 712.1,2872.1C713.6,2871.7 715.8,2874.7 717.3,2877.3C719.8,2881.7 719.8,2897.7 722.5,2898.2C724.6,2898.6 727.6,2891.1 730.4,2887.7C733.3,2884.2 736.7,2876.9 739.5,2877.3C742.9,2877.7 744.8,2894.7 748.6,2895.6C751.6,2896.3 756.4,2887.1 759.0,2887.7C761.5,2888.3 762.2,2894.8 764.3,2898.2C766.5,2901.8 769.3,2908.1 772.1,2908.6C774.5,2909.0 777.1,2905.0 779.9,2903.4C783.1,2901.6 786.8,2899.9 790.3,2898.2C793.8,2896.5 797.5,2895.4 800.8,2893.0C804.5,2890.3 807.8,2886.3 811.2,2882.5C814.8,2878.5 819.0,2874.5 821.6,2869.5C824.4,2864.2 825.1,2857.5 826.8,2851.2C828.6,2844.5 830.3,2837.7 832.0,2830.4C833.9,2822.2 835.7,2813.9 837.3,2804.3C839.3,2792.6 841.0,2776.8 842.5,2765.2C843.7,2755.9 844.8,2748.2 845.7,2740.0C846.5,2732.3 847.0,2727.4 847.7,2717.5C849.1,2698.5 851.5,2662.1 852.9,2634.4C854.3,2606.7 855.2,2579.1 856.1,2551.4C857.0,2523.7 857.3,2492.8 858.1,2468.4C858.7,2449.1 858.7,2430.6 860.2,2416.5C861.2,2406.7 863.1,2391.6 864.4,2391.6C865.9,2391.6 867.2,2413.9 868.5,2426.8C870.0,2442.4 871.5,2460.6 872.7,2478.7C874.0,2498.5 874.7,2519.4 875.8,2541.0C877.0,2564.3 878.5,2590.4 879.9,2613.7C881.2,2635.3 882.7,2655.2 884.1,2676.0C885.5,2696.8 887.0,2719.8 888.2,2738.3C889.1,2753.1 890.0,2762.7 890.7,2778.2C891.7,2799.9 892.0,2833.1 893.3,2856.5C894.3,2875.6 896.1,2892.5 897.2,2908.6C898.2,2922.6 898.1,2938.2 899.8,2947.7C900.8,2953.3 901.3,2959.4 903.8,2960.8C905.8,2961.9 909.1,2960.2 912.1,2958.7C916.7,2956.5 923.6,2947.0 927.7,2947.0C930.4,2947.0 932.3,2950.0 934.3,2952.2C936.7,2954.9 938.1,2961.6 940.8,2962.6C943.0,2963.4 945.6,2960.3 948.6,2960.0C952.3,2959.6 957.9,2960.2 961.6,2961.3C964.7,2962.2 966.6,2964.7 969.5,2965.2C972.7,2965.7 976.2,2964.3 979.9,2963.9C984.0,2963.4 988.8,2962.3 992.9,2962.6C996.6,2962.9 999.5,2964.5 1003.4,2965.2C1008.3,2966.1 1015.1,2966.4 1020.0,2967.3C1023.9,2968.0 1027.1,2968.4 1030.4,2970.0C1034.1,2971.8 1037.3,2975.8 1040.9,2977.8C1044.3,2979.6 1048.6,2983.1 1051.3,2981.7C1056.0,2979.2 1057.2,2961.5 1059.1,2950.4C1061.2,2938.2 1061.6,2922.3 1063.0,2911.3C1064.1,2903.2 1065.3,2890.4 1066.4,2890.4C1067.9,2890.4 1069.0,2912.8 1070.8,2924.3C1072.7,2936.3 1074.4,2960.4 1077.4,2960.8C1079.3,2961.1 1081.3,2951.4 1083.9,2947.8C1086.2,2944.7 1089.7,2943.9 1091.7,2940.0C1095.1,2933.4 1094.5,2918.3 1096.9,2908.7C1099.0,2900.2 1102.6,2885.0 1104.7,2885.2C1107.2,2885.4 1107.1,2910.1 1110.0,2919.1C1112.0,2925.5 1114.9,2931.1 1117.8,2934.7C1119.8,2937.2 1122.5,2937.0 1124.3,2940.0C1127.8,2945.8 1128.2,2970.9 1130.8,2971.2C1132.7,2971.4 1134.8,2955.8 1137.3,2955.6C1139.7,2955.4 1143.0,2962.6 1145.2,2968.6C1149.2,2979.5 1148.7,3017.2 1153.0,3018.2C1155.2,3018.7 1158.5,3007.5 1160.8,3007.7C1163.3,3007.9 1165.7,3021.1 1167.3,3020.8C1170.8,3020.0 1169.0,2973.6 1169.9,2950.4C1170.8,2927.6 1170.4,2882.8 1172.5,2882.6C1173.5,2882.5 1175.5,2891.9 1176.5,2898.2C1178.0,2907.8 1176.7,2934.3 1179.0,2934.7C1180.5,2935.0 1183.2,2919.3 1185.6,2919.1C1187.6,2918.9 1189.3,2926.7 1192.1,2929.5C1194.9,2932.3 1198.5,2934.3 1202.5,2936.0C1207.1,2938.0 1213.0,2940.2 1218.2,2940.0C1223.4,2939.8 1229.6,2938.2 1233.8,2934.7C1238.6,2930.8 1241.5,2916.2 1244.3,2916.5C1247.2,2916.8 1247.3,2935.9 1250.8,2937.3C1253.2,2938.2 1257.6,2934.8 1259.9,2932.1C1262.6,2929.0 1263.6,2918.9 1265.1,2919.1C1267.6,2919.4 1268.3,2958.1 1270.3,2958.2C1271.9,2958.3 1273.9,2936.0 1275.5,2936.0C1277.4,2936.1 1278.9,2956.9 1280.8,2966.0C1282.4,2973.6 1283.0,2985.3 1286.0,2986.9C1287.7,2987.8 1290.6,2983.4 1292.5,2984.3C1296.3,2986.2 1298.2,3011.7 1300.3,3011.7C1301.8,3011.7 1301.1,3000.6 1304.2,2997.3C1307.5,2993.9 1314.9,2993.4 1319.9,2992.1C1324.4,2990.9 1328.8,2989.9 1332.9,2989.5C1336.5,2989.1 1339.6,2988.6 1343.3,2989.5C1348.1,2990.6 1353.3,2996.5 1359.0,2997.3C1365.3,2998.2 1373.1,2994.7 1379.8,2993.4C1386.1,2992.1 1391.4,2991.2 1398.1,2989.5C1406.5,2987.4 1417.6,2984.7 1426.1,2981.1C1433.8,2977.8 1441.2,2972.5 1447.0,2969.4C1451.0,2967.2 1454.6,2963.1 1457.4,2964.1C1461.1,2965.4 1461.1,2979.0 1465.2,2982.4C1468.5,2985.2 1472.8,2984.8 1478.2,2985.5C1486.8,2986.6 1500.0,2985.8 1512.1,2986.3C1525.9,2986.9 1546.4,2991.8 1556.5,2988.9C1562.5,2987.2 1565.1,2982.6 1569.5,2979.8C1573.8,2977.0 1577.5,2974.4 1582.5,2972.0C1588.5,2969.1 1597.2,2966.2 1603.4,2964.1C1608.2,2962.5 1612.4,2959.1 1616.4,2960.2C1621.2,2961.5 1624.4,2972.3 1629.5,2974.6C1634.1,2976.6 1640.7,2972.9 1645.1,2974.6C1649.3,2976.2 1652.5,2980.0 1655.5,2983.7C1658.7,2987.7 1660.1,2993.4 1663.4,2998.0C1667.0,3003.0 1671.8,3008.6 1676.4,3012.4C1680.5,3015.8 1684.5,3018.3 1689.4,3020.2C1694.8,3022.3 1701.4,3022.6 1707.7,3024.1C1714.4,3025.7 1723.0,3027.2 1728.5,3029.3C1732.5,3030.8 1734.4,3032.7 1738.3,3034.4C1743.9,3036.8 1752.7,3040.0 1759.0,3041.8C1764.1,3043.2 1768.2,3044.9 1773.0,3044.7C1778.1,3044.5 1783.8,3041.7 1788.5,3040.3C1792.4,3039.1 1795.1,3038.4 1799.1,3036.9C1804.5,3034.8 1811.7,3030.7 1818.0,3028.5C1823.9,3026.5 1829.8,3024.1 1835.7,3024.0C1841.6,3023.9 1847.0,3026.9 1853.4,3027.9C1860.7,3029.1 1869.1,3029.8 1877.3,3030.4C1885.8,3031.1 1894.7,3032.1 1903.4,3031.7C1912.1,3031.3 1920.8,3028.4 1929.5,3027.8C1938.2,3027.2 1946.8,3027.2 1955.5,3027.8C1964.2,3028.4 1974.5,3029.5 1981.6,3031.7C1986.8,3033.4 1990.2,3037.6 1994.6,3038.2C1998.9,3038.8 2003.5,3034.7 2007.7,3035.6C2012.3,3036.6 2017.2,3045.5 2020.7,3044.7C2024.2,3043.9 2025.3,3035.1 2028.5,3030.4C2032.1,3025.1 2038.6,3014.0 2041.6,3014.7C2044.8,3015.5 2044.3,3036.6 2046.8,3036.9C2049.4,3037.2 2053.0,3015.8 2057.2,3014.7C2060.3,3013.9 2064.2,3022.6 2067.7,3022.6C2071.2,3022.6 2075.1,3014.3 2078.1,3014.7C2081.1,3015.1 2083.3,3021.7 2085.9,3025.2" fill="none" stroke="#000" stroke-width="2.00" stroke-linejoin="round" shape-rendering="crispEdges" stroke-dasharray="8.6,9.2"/>
</svg></body></html>
